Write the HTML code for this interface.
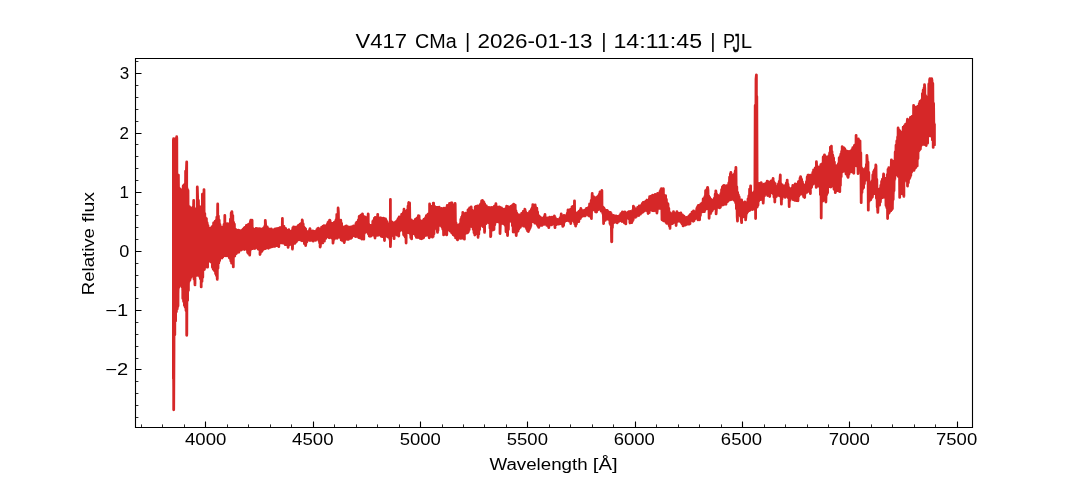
<!DOCTYPE html>
<html lang="en"><head><meta charset="utf-8"><title>V417 CMa spectrum</title>
<style>html,body{margin:0;padding:0;background:#fff;overflow:hidden}body{width:1080px;height:480px;font-family:"Liberation Sans",sans-serif}svg{display:block}text{font-family:"Liberation Sans",sans-serif;fill:#000}</style></head><body>
<svg width="1080" height="480" viewBox="0 0 1080 480">
<rect width="1080" height="480" fill="#fff"/>
<path d="M172.0,139.9 172.4,139.9 172.8,139.9 173.2,139.6 173.6,139.1 174.0,138.9 174.4,138.7 174.8,138.5 175.2,138.3 175.6,138.1 176.0,138.0 176.4,137.9 176.8,138.1 177.2,159.8 177.6,174.3 178.0,174.7 178.4,175.0 178.8,178.2 179.2,187.0 179.6,189.9 180.0,189.9 180.4,189.9 180.8,189.9 181.2,189.9 181.6,189.7 182.0,189.4 182.4,188.9 182.8,187.4 183.2,186.0 183.6,184.9 184.0,184.6 184.4,184.3 184.8,181.6 185.2,174.1 185.6,171.4 186.0,171.0 186.4,169.1 186.8,167.0 187.2,182.3 187.6,187.9 188.0,188.5 188.4,190.8 188.8,200.8 189.2,206.0 189.6,206.4 190.0,206.8 190.4,207.2 190.8,207.4 191.2,207.4 191.6,207.4 192.0,207.4 192.4,207.4 192.8,206.5 193.2,203.9 193.6,201.2 194.0,204.7 194.4,209.1 194.8,209.1 195.2,209.1 195.6,209.1 196.0,209.1 196.4,209.1 196.8,209.1 197.2,204.8 197.6,191.5 198.0,198.3 198.4,198.6 198.8,198.9 199.2,201.8 199.6,207.3 200.0,207.3 200.4,207.3 200.8,207.3 201.2,207.3 201.6,207.3 202.0,194.9 202.4,194.7 202.8,194.5 203.2,194.3 203.6,194.1 204.0,189.9 204.4,200.6 204.8,211.5 205.2,213.8 205.6,215.2 206.0,216.7 206.4,218.2 206.8,219.6 207.2,221.1 207.6,222.5 208.0,223.9 208.4,225.3 208.8,226.7 209.2,227.4 209.6,227.4 210.0,227.4 210.4,227.4 210.8,227.4 211.2,227.1 211.6,226.5 212.0,225.9 212.4,225.3 212.8,224.7 213.2,224.1 213.6,223.5 214.0,222.9 214.4,222.3 214.8,221.3 215.2,220.4 215.6,219.5 216.0,218.5 216.4,217.6 216.8,216.7 217.2,212.7 217.6,208.4 218.0,211.4 218.4,214.4 218.8,216.4 219.2,218.4 219.6,220.4 220.0,222.2 220.4,223.6 220.8,225.0 221.2,226.4 221.6,227.1 222.0,227.1 222.4,227.1 222.8,227.1 223.2,227.1 223.6,226.4 224.0,222.4 224.4,218.4 224.8,215.8 225.2,218.8 225.6,224.1 226.0,224.1 226.4,224.1 226.8,224.1 227.2,224.1 227.6,224.1 228.0,224.0 228.4,223.9 228.8,223.7 229.2,223.6 229.6,223.5 230.0,221.4 230.4,218.0 230.8,214.6 231.2,212.7 231.6,212.5 232.0,212.4 232.4,212.7 232.8,213.5 233.2,218.7 233.6,221.2 234.0,221.6 234.4,222.0 234.8,224.3 235.2,229.1 235.6,230.0 236.0,230.2 236.4,230.5 236.8,230.8 237.2,231.0 237.6,231.0 238.0,231.0 238.4,231.0 238.8,231.0 239.2,231.0 239.6,230.9 240.0,230.8 240.4,230.7 240.8,230.6 241.2,230.5 241.6,230.4 242.0,229.9 242.4,229.4 242.8,228.9 243.2,228.4 243.6,227.9 244.0,227.4 244.4,227.1 244.8,227.0 245.2,226.9 245.6,226.7 246.0,226.6 246.4,225.8 246.8,225.0 247.2,224.2 247.6,224.1 248.0,224.0 248.4,223.9 248.8,223.9 249.2,223.6 249.6,222.4 250.0,221.2 250.4,220.2 250.8,220.3 251.2,220.5 251.6,220.6 252.0,220.8 252.4,220.9 252.8,225.8 253.2,229.1 253.6,229.1 254.0,229.1 254.4,229.1 254.8,229.1 255.2,229.1 255.6,229.1 256.0,229.1 256.4,229.1 256.8,229.1 257.2,229.1 257.6,229.0 258.0,229.0 258.4,228.9 258.8,228.8 259.2,228.8 259.6,228.7 260.0,228.6 260.4,228.6 260.8,228.5 261.2,228.4 261.6,228.4 262.0,228.3 262.4,228.3 262.8,228.2 263.2,228.1 263.6,228.0 264.0,227.4 264.4,226.8 264.8,226.3 265.2,223.1 265.6,223.1 266.0,225.5 266.4,226.0 266.8,226.6 267.2,227.1 267.6,227.6 268.0,228.0 268.4,228.2 268.8,228.4 269.2,228.6 269.6,228.8 270.0,228.8 270.4,228.8 270.8,228.8 271.2,228.8 271.6,228.8 272.0,228.8 272.4,228.9 272.8,229.1 273.2,229.3 273.6,229.5 274.0,229.7 274.4,229.7 274.8,229.7 275.2,229.7 275.6,229.7 276.0,229.7 276.4,229.1 276.8,228.5 277.2,227.9 277.6,227.6 278.0,227.3 278.4,227.0 278.8,226.7 279.2,226.5 279.6,226.6 280.0,226.6 280.4,226.6 280.8,226.6 281.2,226.6 281.6,226.6 282.0,222.0 282.4,218.8 282.8,223.0 283.2,226.2 283.6,226.6 284.0,227.1 284.4,227.5 284.8,228.0 285.2,228.4 285.6,228.7 286.0,229.0 286.4,229.3 286.8,229.6 287.2,229.9 287.6,230.2 288.0,230.3 288.4,230.3 288.8,230.3 289.2,230.3 289.6,230.3 290.0,230.3 290.4,230.3 290.8,230.3 291.2,230.3 291.6,230.3 292.0,229.6 292.4,228.8 292.8,228.0 293.2,227.7 293.6,227.6 294.0,227.6 294.4,227.8 294.8,227.8 295.2,227.8 295.6,227.8 296.0,227.8 296.4,227.8 296.8,227.7 297.2,227.3 297.6,226.9 298.0,226.5 298.4,226.1 298.8,225.8 299.2,225.5 299.6,225.2 300.0,224.9 300.4,224.6 300.8,224.3 301.2,222.9 301.6,220.5 302.0,220.3 302.4,220.3 302.8,220.5 303.2,223.4 303.6,225.3 304.0,226.3 304.4,227.3 304.8,228.1 305.2,228.7 305.6,229.3 306.0,230.0 306.4,230.8 306.8,231.5 307.2,231.5 307.6,231.5 308.0,231.5 308.4,231.5 308.8,231.5 309.2,230.6 309.6,229.7 310.0,228.9 310.4,230.1 310.8,231.4 311.2,231.5 311.6,231.5 312.0,231.5 312.4,231.5 312.8,231.5 313.2,231.4 313.6,231.2 314.0,231.0 314.4,230.8 314.8,230.6 315.2,230.4 315.6,230.2 316.0,229.9 316.4,229.6 316.8,229.3 317.2,229.0 317.6,228.7 318.0,228.4 318.4,228.3 318.8,228.2 319.2,228.1 319.6,228.0 320.0,227.9 320.4,227.8 320.8,227.6 321.2,227.5 321.6,227.4 322.0,227.3 322.4,227.2 322.8,227.0 323.2,226.8 323.6,226.6 324.0,226.4 324.4,226.2 324.8,226.0 325.2,225.8 325.6,225.6 326.0,225.4 326.4,224.6 326.8,223.8 327.2,223.0 327.6,222.2 328.0,221.5 328.4,221.3 328.8,221.0 329.2,220.7 329.6,220.8 330.0,220.9 330.4,221.3 330.8,222.3 331.2,223.3 331.6,223.3 332.0,223.3 332.4,223.3 332.8,223.3 333.2,223.3 333.6,223.1 334.0,222.6 334.4,222.1 334.8,221.7 335.2,221.2 335.6,219.4 336.0,216.5 336.4,214.7 336.8,214.5 337.2,214.4 337.6,214.2 338.0,212.2 338.4,210.8 338.8,214.2 339.2,219.7 339.6,220.5 340.0,220.6 340.4,220.7 340.8,220.8 341.2,221.0 341.6,223.0 342.0,225.3 342.4,226.2 342.8,226.5 343.2,226.8 343.6,227.1 344.0,227.1 344.4,227.1 344.8,227.1 345.2,227.1 345.6,227.1 346.0,226.6 346.4,226.2 346.8,226.2 347.2,226.2 347.6,226.3 348.0,226.3 348.4,226.3 348.8,226.4 349.2,226.4 349.6,226.4 350.0,226.5 350.4,226.5 350.8,226.5 351.2,226.6 351.6,226.6 352.0,226.6 352.4,226.6 352.8,226.6 353.2,226.6 353.6,226.5 354.0,225.9 354.4,225.3 354.8,224.7 355.2,224.3 355.6,223.9 356.0,223.5 356.4,223.1 356.8,222.7 357.2,222.3 357.6,221.9 358.0,220.6 358.4,217.4 358.8,216.5 359.2,216.4 359.6,216.3 360.0,216.2 360.4,216.1 360.8,216.0 361.2,215.7 361.6,215.1 362.0,214.5 362.4,214.1 362.8,214.0 363.2,214.6 363.6,215.3 364.0,216.0 364.4,216.1 364.8,216.2 365.2,216.4 365.6,216.5 366.0,216.6 366.4,216.6 366.8,216.6 367.2,216.6 367.6,216.6 368.0,216.1 368.4,219.8 368.8,224.7 369.2,224.7 369.6,224.7 370.0,224.7 370.4,224.7 370.8,224.7 371.2,224.5 371.6,224.3 372.0,224.1 372.4,222.1 372.8,220.1 373.2,219.5 373.6,219.2 374.0,218.9 374.4,218.6 374.8,218.3 375.2,218.0 375.6,217.8 376.0,217.6 376.4,217.5 376.8,217.4 377.2,217.2 377.6,215.7 378.0,216.4 378.4,217.9 378.8,218.0 379.2,218.1 379.6,218.3 380.0,218.4 380.4,218.5 380.8,218.5 381.2,218.5 381.6,218.5 382.0,218.5 382.4,218.5 382.8,218.5 383.2,218.5 383.6,218.5 384.0,218.5 384.4,218.5 384.8,218.4 385.2,217.9 385.6,218.9 386.0,220.0 386.4,221.0 386.8,222.0 387.2,222.8 387.6,222.8 388.0,222.8 388.4,222.8 388.8,222.8 389.2,222.8 389.6,222.8 390.0,222.8 390.4,199.7 390.8,213.2 391.2,222.2 391.6,222.2 392.0,222.2 392.4,222.2 392.8,222.2 393.2,222.2 393.6,222.2 394.0,222.2 394.4,222.2 394.8,222.2 395.2,221.8 395.6,221.4 396.0,221.0 396.4,220.5 396.8,220.0 397.2,219.6 397.6,219.1 398.0,218.6 398.4,218.2 398.8,217.7 399.2,217.2 399.6,216.8 400.0,216.4 400.4,216.1 400.8,215.8 401.2,215.4 401.6,215.1 402.0,214.8 402.4,214.5 402.8,214.2 403.2,211.8 403.6,209.7 404.0,209.6 404.4,209.8 404.8,210.0 405.2,210.3 405.6,210.3 406.0,210.3 406.4,210.3 406.8,210.3 407.2,210.3 407.6,207.9 408.0,205.2 408.4,203.4 408.8,203.2 409.2,203.2 409.6,203.3 410.0,203.5 410.4,214.3 410.8,220.3 411.2,220.3 411.6,220.3 412.0,220.3 412.4,220.3 412.8,220.3 413.2,220.1 413.6,219.9 414.0,219.8 414.4,219.5 414.8,219.2 415.2,218.9 415.6,218.5 416.0,218.2 416.4,217.9 416.8,217.6 417.2,217.3 417.6,217.0 418.0,216.7 418.4,216.5 418.8,216.2 419.2,217.3 419.6,220.0 420.0,221.0 420.4,221.0 420.8,221.0 421.2,221.0 421.6,221.0 422.0,221.0 422.4,221.0 422.8,221.0 423.2,220.4 423.6,219.8 424.0,219.1 424.4,218.4 424.8,217.8 425.2,217.2 425.6,216.6 426.0,216.0 426.4,215.4 426.8,214.8 427.2,214.2 427.6,214.1 428.0,214.1 428.4,214.1 428.8,213.4 429.2,208.1 429.6,204.1 430.0,206.0 430.4,207.0 430.8,207.0 431.2,207.0 431.6,207.0 432.0,207.0 432.4,206.7 432.8,205.2 433.2,203.7 433.6,203.4 434.0,203.8 434.4,204.3 434.8,204.8 435.2,205.3 435.6,206.0 436.0,206.8 436.4,207.6 436.8,207.8 437.2,207.8 437.6,207.8 438.0,207.8 438.4,207.8 438.8,207.8 439.2,207.9 439.6,208.1 440.0,208.2 440.4,208.4 440.8,208.6 441.2,208.7 441.6,208.8 442.0,208.8 442.4,208.8 442.8,208.8 443.2,208.8 443.6,208.8 444.0,208.8 444.4,208.7 444.8,208.6 445.2,208.5 445.6,207.4 446.0,205.9 446.4,205.9 446.8,205.9 447.2,205.9 447.6,205.9 448.0,205.7 448.4,204.9 448.8,204.1 449.2,203.5 449.6,203.4 450.0,203.3 450.4,203.2 450.8,203.2 451.2,203.4 451.6,203.5 452.0,203.7 452.4,203.9 452.8,204.1 453.2,204.1 453.6,204.1 454.0,204.1 454.4,204.1 454.8,204.1 455.2,203.7 455.6,208.6 456.0,223.1 456.4,223.9 456.8,224.7 457.2,225.1 457.6,225.1 458.0,225.1 458.4,225.1 458.8,225.1 459.2,225.1 459.6,223.5 460.0,221.9 460.4,220.3 460.8,218.7 461.2,217.1 461.6,215.5 462.0,214.4 462.4,213.4 462.8,212.9 463.2,213.1 463.6,213.4 464.0,213.7 464.4,213.9 464.8,214.1 465.2,214.1 465.6,214.1 466.0,214.1 466.4,214.1 466.8,213.3 467.2,211.5 467.6,209.7 468.0,208.4 468.4,208.3 468.8,208.1 469.2,207.9 469.6,207.8 470.0,207.6 470.4,207.5 470.8,207.3 471.2,207.2 471.6,207.7 472.0,209.7 472.4,210.1 472.8,210.1 473.2,210.1 473.6,210.1 474.0,210.1 474.4,209.4 474.8,208.0 475.2,206.6 475.6,206.5 476.0,206.6 476.4,206.6 476.8,206.6 477.2,206.6 477.6,206.6 478.0,206.4 478.4,205.7 478.8,205.1 479.2,204.4 479.6,203.7 480.0,203.2 480.4,202.8 480.8,202.4 481.2,202.0 481.6,201.6 482.0,201.2 482.4,201.0 482.8,201.0 483.2,201.0 483.6,201.0 484.0,201.0 484.4,201.9 484.8,202.8 485.2,203.8 485.6,204.7 486.0,205.5 486.4,205.9 486.8,206.3 487.2,206.7 487.6,207.1 488.0,207.3 488.4,207.3 488.8,207.4 489.2,207.5 489.6,207.5 490.0,207.6 490.4,207.7 490.8,207.7 491.2,207.8 491.6,207.8 492.0,207.8 492.4,207.8 492.8,207.8 493.2,207.8 493.6,207.7 494.0,207.1 494.4,206.5 494.8,205.9 495.2,205.3 495.6,204.7 496.0,204.1 496.4,204.3 496.8,205.0 497.2,205.7 497.6,206.3 498.0,206.6 498.4,206.6 498.8,206.6 499.2,206.6 499.6,206.6 500.0,206.6 500.4,206.6 500.8,206.6 501.2,207.0 501.6,207.6 502.0,208.1 502.4,208.6 502.8,209.0 503.2,209.0 503.6,209.0 504.0,209.0 504.4,209.0 504.8,209.0 505.2,208.5 505.6,208.0 506.0,207.4 506.4,206.9 506.8,206.5 507.2,207.0 507.6,207.6 508.0,207.8 508.4,207.8 508.8,207.8 509.2,207.8 509.6,207.8 510.0,207.5 510.4,207.0 510.8,206.5 511.2,206.0 511.6,205.5 512.0,205.0 512.4,204.7 512.8,204.7 513.2,204.7 513.6,204.7 514.0,204.7 514.4,204.7 514.8,204.7 515.2,204.7 515.6,207.0 516.0,209.6 516.4,212.2 516.8,213.1 517.2,213.5 517.6,213.9 518.0,214.3 518.4,214.7 518.8,214.7 519.2,214.7 519.6,214.7 520.0,214.7 520.4,214.7 520.8,214.3 521.2,213.9 521.6,213.5 522.0,213.1 522.4,212.7 522.8,212.3 523.2,211.8 523.6,211.3 524.0,210.7 524.4,210.2 524.8,209.7 525.2,209.7 525.6,210.8 526.0,212.0 526.4,213.2 526.8,213.2 527.2,213.2 527.6,213.2 528.0,213.2 528.4,213.2 528.8,212.7 529.2,211.7 529.6,210.7 530.0,209.9 530.4,209.1 530.8,208.3 531.2,207.5 531.6,206.7 532.0,205.9 532.4,205.3 532.8,205.3 533.2,205.2 533.6,205.2 534.0,205.1 534.4,205.1 534.8,205.0 535.2,205.0 535.6,205.3 536.0,206.0 536.4,206.6 536.8,207.3 537.2,208.1 537.6,209.7 538.0,211.3 538.4,212.9 538.8,214.5 539.2,215.8 539.6,216.8 540.0,217.8 540.4,218.3 540.8,218.3 541.2,218.3 541.6,218.3 542.0,218.3 542.4,218.3 542.8,217.7 543.2,217.2 543.6,216.7 544.0,216.1 544.4,216.1 544.8,216.3 545.2,216.5 545.6,216.7 546.0,216.9 546.4,217.2 546.8,217.2 547.2,217.2 547.6,217.2 548.0,217.2 548.4,217.2 548.8,217.2 549.2,217.1 549.6,217.0 550.0,216.9 550.4,217.1 550.8,217.2 551.2,217.2 551.6,217.2 552.0,217.2 552.4,217.2 552.8,217.2 553.2,217.1 553.6,216.9 554.0,216.7 554.4,216.5 554.8,216.7 555.2,216.9 555.6,217.1 556.0,217.4 556.4,218.1 556.8,218.8 557.2,219.1 557.6,219.1 558.0,219.1 558.4,219.1 558.8,219.1 559.2,219.1 559.6,217.8 560.0,216.6 560.4,215.3 560.8,215.1 561.2,215.0 561.6,215.4 562.0,215.8 562.4,216.0 562.8,216.0 563.2,216.0 563.6,216.0 564.0,216.0 564.4,215.9 564.8,215.8 565.2,215.6 565.6,215.5 566.0,215.4 566.4,214.0 566.8,212.6 567.2,211.2 567.6,210.6 568.0,210.2 568.4,209.8 568.8,209.7 569.2,209.7 569.6,209.7 570.0,209.7 570.4,209.7 570.8,209.7 571.2,209.1 571.6,207.9 572.0,206.7 572.4,205.9 572.8,205.6 573.2,205.3 573.6,205.1 574.0,204.8 574.4,203.1 574.8,206.9 575.2,210.1 575.6,212.1 576.0,213.2 576.4,213.2 576.8,213.2 577.2,213.2 577.6,213.2 578.0,213.2 578.4,212.4 578.8,211.6 579.2,210.8 579.6,210.0 580.0,209.4 580.4,208.9 580.8,208.8 581.2,209.4 581.6,210.1 582.0,210.8 582.4,210.9 582.8,210.9 583.2,210.9 583.6,210.9 584.0,210.9 584.4,210.6 584.8,210.1 585.2,209.5 585.6,209.0 586.0,208.5 586.4,208.1 586.8,207.7 587.2,207.3 587.6,206.9 588.0,206.5 588.4,206.1 588.8,205.6 589.2,205.0 589.6,204.5 590.0,204.0 590.4,203.4 590.8,202.0 591.2,200.6 591.6,199.2 592.0,196.0 592.4,194.2 592.8,195.2 593.2,196.2 593.6,196.9 594.0,197.5 594.4,198.1 594.8,198.4 595.2,198.4 595.6,198.4 596.0,198.4 596.4,198.4 596.8,198.2 597.2,197.5 597.6,196.9 598.0,196.2 598.4,195.5 598.8,194.4 599.2,193.2 599.6,192.2 600.0,192.0 600.4,191.9 600.8,191.7 601.2,191.4 601.6,192.3 602.0,197.5 602.4,202.1 602.8,206.0 603.2,206.4 603.6,206.8 604.0,207.2 604.4,207.6 604.8,208.0 605.2,208.4 605.6,208.7 606.0,209.0 606.4,209.3 606.8,209.6 607.2,209.9 607.6,210.2 608.0,210.4 608.4,210.6 608.8,210.7 609.2,210.8 609.6,211.0 610.0,211.5 610.4,212.0 610.8,212.5 611.2,213.1 611.6,213.6 612.0,214.0 612.4,214.4 612.8,214.8 613.2,215.2 613.6,215.4 614.0,215.5 614.4,215.6 614.8,215.7 615.2,215.8 615.6,215.9 616.0,216.0 616.4,216.0 616.8,216.0 617.2,216.0 617.6,216.0 618.0,215.9 618.4,215.6 618.8,215.4 619.2,215.1 619.6,214.8 620.0,214.1 620.4,213.1 620.8,212.2 621.2,212.2 621.6,212.2 622.0,212.2 622.4,212.2 622.8,212.2 623.2,212.2 623.6,212.2 624.0,212.1 624.4,212.1 624.8,212.0 625.2,211.9 625.6,211.9 626.0,211.8 626.4,211.7 626.8,211.7 627.2,211.6 627.6,211.5 628.0,211.4 628.4,211.3 628.8,211.3 629.2,211.5 629.6,211.6 630.0,211.6 630.4,211.6 630.8,211.6 631.2,211.6 631.6,211.6 632.0,211.0 632.4,210.4 632.8,209.8 633.2,208.1 633.6,206.6 634.0,207.2 634.4,208.0 634.8,208.4 635.2,208.4 635.6,208.4 636.0,208.4 636.4,208.4 636.8,208.3 637.2,207.9 637.6,207.5 638.0,207.1 638.4,206.7 638.8,206.4 639.2,206.1 639.6,205.8 640.0,205.5 640.4,205.2 640.8,204.9 641.2,204.6 641.6,204.3 642.0,204.0 642.4,203.7 642.8,203.4 643.2,203.1 643.6,202.8 644.0,202.7 644.4,202.6 644.8,202.4 645.2,202.3 645.6,200.9 646.0,198.5 646.4,198.6 646.8,198.9 647.2,198.9 647.6,198.9 648.0,198.9 648.4,198.9 648.8,198.9 649.2,197.4 649.6,195.9 650.0,195.5 650.4,195.7 650.8,195.9 651.2,195.9 651.6,195.9 652.0,195.9 652.4,195.9 652.8,195.9 653.2,195.8 653.6,195.5 654.0,195.2 654.4,195.0 654.8,194.7 655.2,194.6 655.6,194.5 656.0,194.4 656.4,194.3 656.8,194.2 657.2,194.1 657.6,193.8 658.0,193.4 658.4,193.0 658.8,192.6 659.2,192.1 659.6,191.4 660.0,190.8 660.4,190.1 660.8,189.4 661.2,189.1 661.6,189.0 662.0,188.9 662.4,188.8 662.8,188.8 663.2,188.9 663.6,189.1 664.0,195.8 664.4,195.9 664.8,195.9 665.2,195.9 665.6,195.9 666.0,196.2 666.4,198.1 666.8,200.0 667.2,201.7 667.6,202.5 668.0,203.3 668.4,204.3 668.8,207.1 669.2,209.9 669.6,212.7 670.0,213.1 670.4,213.5 670.8,213.8 671.2,213.8 671.6,213.8 672.0,213.8 672.4,213.8 672.8,213.8 673.2,213.5 673.6,213.3 674.0,213.8 674.4,213.8 674.8,213.8 675.2,213.8 675.6,213.8 676.0,213.8 676.4,213.4 676.8,213.0 677.2,213.0 677.6,213.3 678.0,213.5 678.4,213.5 678.8,213.5 679.2,213.5 679.6,213.5 680.0,213.4 680.4,213.4 680.8,213.6 681.2,213.7 681.6,213.9 682.0,214.0 682.4,214.6 682.8,215.4 683.2,216.2 683.6,216.7 684.0,216.9 684.4,217.1 684.8,217.2 685.2,217.2 685.6,217.2 686.0,217.2 686.4,217.2 686.8,217.1 687.2,216.7 687.6,216.3 688.0,215.9 688.4,215.5 688.8,215.1 689.2,214.7 689.6,214.3 690.0,213.9 690.4,213.5 690.8,213.1 691.2,212.7 691.6,212.5 692.0,212.3 692.4,212.1 692.8,211.9 693.2,211.8 693.6,211.8 694.0,211.7 694.4,211.7 694.8,211.7 695.2,211.6 695.6,210.7 696.0,209.1 696.4,207.5 696.8,206.3 697.2,205.7 697.6,205.1 698.0,204.7 698.4,204.6 698.8,204.4 699.2,204.3 699.6,204.2 700.0,203.9 700.4,203.7 700.8,203.4 701.2,203.1 701.6,202.9 702.0,201.7 702.4,200.5 702.8,199.3 703.2,198.6 703.6,197.9 704.0,197.2 704.4,196.6 704.8,195.4 705.2,191.0 705.6,189.0 706.0,188.8 706.4,188.6 706.8,188.3 707.2,188.1 707.6,187.9 708.0,187.6 708.4,190.6 708.8,193.6 709.2,195.0 709.6,196.3 710.0,197.6 710.4,198.7 710.8,199.3 711.2,199.9 711.6,200.2 712.0,200.2 712.4,200.2 712.8,200.2 713.2,200.2 713.6,199.8 714.0,197.5 714.4,195.3 714.8,194.0 715.2,193.0 715.6,192.0 716.0,192.5 716.4,193.7 716.8,194.8 717.2,195.3 717.6,195.8 718.0,195.8 718.4,195.8 718.8,195.8 719.2,195.8 719.6,195.8 720.0,195.1 720.4,193.7 720.8,192.3 721.2,190.8 721.6,189.2 722.0,187.6 722.4,186.5 722.8,186.3 723.2,186.1 723.6,186.2 724.0,186.3 724.4,186.3 724.8,186.3 725.2,186.3 725.6,186.3 726.0,186.3 726.4,186.0 726.8,185.7 727.2,185.4 727.6,184.3 728.0,183.1 728.4,181.9 728.8,180.1 729.2,178.1 729.6,176.1 730.0,174.1 730.4,173.5 730.8,173.6 731.2,174.6 731.6,175.2 732.0,175.2 732.4,175.2 732.8,175.2 733.2,175.2 733.6,175.2 734.0,174.4 734.4,173.6 734.8,172.7 735.2,171.1 735.6,169.5 736.0,168.9 736.4,174.3 736.8,180.7 737.2,191.1 737.6,191.9 738.0,192.7 738.4,193.6 738.8,195.0 739.2,196.4 739.6,197.8 740.0,198.3 740.4,198.9 740.8,199.4 741.2,199.9 741.6,200.4 742.0,200.8 742.4,201.2 742.8,201.6 743.2,202.0 743.6,202.4 744.0,202.8 744.4,202.8 744.8,202.8 745.2,202.8 745.6,202.8 746.0,202.8 746.4,202.5 746.8,202.1 747.2,201.7 747.6,200.2 748.0,198.6 748.4,197.0 748.8,194.4 749.2,191.4 749.6,188.4 750.0,188.4 750.4,191.0 750.8,192.2 751.2,192.9 751.6,193.3 752.0,193.3 752.4,193.3 752.8,193.3 753.2,193.3 753.6,193.0 754.0,191.3 754.4,189.5 754.8,113.0 755.2,98.8 755.6,84.7 756.0,75.0 756.4,75.0 756.8,75.0 757.2,135.5 757.6,184.1 758.0,184.1 758.4,184.1 758.8,184.1 759.2,184.1 759.6,184.1 760.0,184.1 760.4,184.1 760.8,184.1 761.2,183.9 761.6,183.5 762.0,183.7 762.4,183.9 762.8,184.1 763.2,184.1 763.6,184.1 764.0,184.1 764.4,184.1 764.8,184.1 765.2,183.7 765.6,183.3 766.0,182.9 766.4,182.5 766.8,182.1 767.2,181.7 767.6,181.7 768.0,182.3 768.4,182.8 768.8,182.8 769.2,182.8 769.6,182.8 770.0,182.8 770.4,182.8 770.8,182.1 771.2,181.5 771.6,180.8 772.0,180.1 772.4,179.6 772.8,179.8 773.2,180.6 773.6,181.4 774.0,182.2 774.4,183.0 774.8,183.7 775.2,184.3 775.6,184.9 776.0,185.2 776.4,185.2 776.8,185.2 777.2,185.2 777.6,185.2 778.0,185.0 778.4,183.8 778.8,182.6 779.2,181.2 779.6,179.2 780.0,177.2 780.4,176.6 780.8,180.7 781.2,184.8 781.6,185.3 782.0,185.3 782.4,185.3 782.8,185.3 783.2,185.3 783.6,185.3 784.0,185.3 784.4,185.3 784.8,185.2 785.2,183.9 785.6,182.7 786.0,181.9 786.4,181.4 786.8,180.9 787.2,180.5 787.6,181.3 788.0,182.1 788.4,183.1 788.8,186.5 789.2,189.9 789.6,189.9 790.0,189.9 790.4,189.9 790.8,189.9 791.2,189.9 791.6,188.8 792.0,187.1 792.4,185.9 792.8,185.7 793.2,185.5 793.6,185.3 794.0,185.1 794.4,184.9 794.8,184.7 795.2,184.7 795.6,184.7 796.0,184.7 796.4,184.7 796.8,184.4 797.2,183.8 797.6,183.1 798.0,182.4 798.4,181.8 798.8,180.7 799.2,179.5 799.6,178.3 800.0,177.7 800.4,177.5 800.8,177.3 801.2,177.5 801.6,177.6 802.0,177.8 802.4,180.2 802.8,183.6 803.2,185.3 803.6,185.3 804.0,185.3 804.4,185.3 804.8,185.3 805.2,184.6 805.6,183.1 806.0,181.6 806.4,179.6 806.8,177.6 807.2,175.6 807.6,175.2 808.0,175.1 808.4,175.1 808.8,175.3 809.2,175.3 809.6,175.3 810.0,175.3 810.4,175.3 810.8,175.3 811.2,175.0 811.6,174.2 812.0,173.4 812.4,172.6 812.8,171.8 813.2,171.1 813.6,170.4 814.0,169.7 814.4,169.1 814.8,168.4 815.2,168.0 815.6,167.6 816.0,167.2 816.4,164.0 816.8,165.1 817.2,167.0 817.6,167.0 818.0,167.0 818.4,167.0 818.8,167.0 819.2,167.0 819.6,166.0 820.0,165.0 820.4,164.1 820.8,163.8 821.2,163.6 821.6,163.3 822.0,163.0 822.4,161.8 822.8,159.1 823.2,156.3 823.6,155.7 824.0,155.4 824.4,155.7 824.8,156.7 825.2,157.7 825.6,157.7 826.0,157.7 826.4,157.7 826.8,157.7 827.2,157.7 827.6,157.5 828.0,157.1 828.4,156.7 828.8,156.3 829.2,155.3 829.6,151.6 830.0,147.9 830.4,147.4 830.8,146.9 831.2,146.6 831.6,148.6 832.0,150.9 832.4,153.0 832.8,155.0 833.2,157.0 833.6,158.2 834.0,158.7 834.4,160.6 834.8,164.6 835.2,166.6 835.6,166.6 836.0,166.6 836.4,166.6 836.8,166.6 837.2,166.2 837.6,165.4 838.0,164.6 838.4,162.8 838.8,159.4 839.2,156.6 839.6,156.4 840.0,156.2 840.4,155.8 840.8,153.4 841.2,151.0 841.6,148.6 842.0,148.1 842.4,147.7 842.8,147.8 843.2,147.8 843.6,147.8 844.0,147.8 844.4,147.8 844.8,148.2 845.2,149.0 845.6,149.8 846.0,150.5 846.4,151.1 846.8,151.7 847.2,152.2 847.6,152.2 848.0,152.2 848.4,152.2 848.8,152.2 849.2,152.2 849.6,152.1 850.0,151.9 850.4,151.8 850.8,151.7 851.2,151.2 851.6,150.4 852.0,149.6 852.4,148.9 852.8,148.2 853.2,147.5 853.6,146.9 854.0,146.2 854.4,145.6 854.8,144.9 855.2,144.3 855.6,143.7 856.0,139.7 856.4,137.9 856.8,139.7 857.2,139.7 857.6,139.7 858.0,139.7 858.4,139.7 858.8,139.7 859.2,139.6 859.6,139.6 860.0,139.7 860.4,143.4 860.8,147.2 861.2,155.6 861.6,163.8 862.0,167.8 862.4,169.0 862.8,169.0 863.2,169.0 863.6,169.0 864.0,169.0 864.4,168.8 864.8,168.4 865.2,168.0 865.6,166.5 866.0,164.1 866.4,161.7 866.8,159.1 867.2,156.7 867.6,157.6 868.0,158.5 868.4,164.1 868.8,169.9 869.2,176.2 869.6,182.5 870.0,182.5 870.4,182.5 870.8,182.5 871.2,182.5 871.6,182.5 872.0,179.9 872.4,176.7 872.8,173.5 873.2,172.0 873.6,170.9 874.0,169.9 874.4,168.8 874.8,167.7 875.2,166.7 875.6,165.7 876.0,165.7 876.4,167.5 876.8,171.1 877.2,185.1 877.6,188.7 878.0,188.7 878.4,188.7 878.8,188.7 879.2,188.7 879.6,188.7 880.0,187.0 880.4,185.4 880.8,183.7 881.2,182.4 881.6,181.5 882.0,180.5 882.4,179.6 882.8,178.7 883.2,176.9 883.6,175.4 884.0,177.7 884.4,178.8 884.8,178.8 885.2,178.8 885.6,178.8 886.0,178.8 886.4,178.4 886.8,176.4 887.2,174.4 887.6,171.5 888.0,168.5 888.4,166.8 888.8,167.0 889.2,167.0 889.6,167.0 890.0,167.0 890.4,167.0 890.8,166.8 891.2,163.7 891.6,160.7 892.0,161.9 892.4,161.9 892.8,161.9 893.2,161.9 893.6,161.9 894.0,161.9 894.4,159.3 894.8,155.0 895.2,151.1 895.6,147.6 896.0,144.1 896.4,142.5 896.8,140.9 897.2,139.3 897.6,135.6 898.0,128.4 898.4,128.3 898.8,130.4 899.2,131.6 899.6,131.6 900.0,131.6 900.4,131.6 900.8,131.6 901.2,131.6 901.6,131.6 902.0,131.6 902.4,131.6 902.8,126.6 903.2,125.2 903.6,125.0 904.0,124.8 904.4,124.7 904.8,124.7 905.2,124.7 905.6,124.7 906.0,124.7 906.4,121.9 906.8,120.3 907.2,120.5 907.6,120.8 908.0,120.8 908.4,120.8 908.8,120.8 909.2,120.8 909.6,120.4 910.0,117.9 910.4,117.6 910.8,117.4 911.2,117.2 911.6,117.2 912.0,117.2 912.4,117.2 912.8,117.2 913.2,107.5 913.6,105.9 914.0,106.0 914.4,106.2 914.8,106.3 915.2,106.3 915.6,106.3 916.0,106.3 916.4,106.3 916.8,106.2 917.2,106.0 917.6,105.8 918.0,105.5 918.4,104.9 918.8,103.7 919.2,102.5 919.6,101.4 920.0,100.5 920.4,99.7 920.8,99.7 921.2,99.7 921.6,99.7 922.0,99.7 922.4,90.1 922.8,89.3 923.2,88.5 923.6,87.6 924.0,86.8 924.4,85.9 924.8,87.0 925.2,94.8 925.6,96.6 926.0,96.6 926.4,96.6 926.8,96.6 927.2,96.6 927.6,96.6 928.0,96.6 928.4,87.6 928.8,83.4 929.2,80.8 929.6,78.8 930.0,78.8 930.4,78.9 930.8,79.1 931.2,79.1 931.6,79.1 932.0,79.1 932.4,79.7 932.8,81.0 933.2,85.6 933.6,95.1 934.0,109.1 934.4,121.1 934.8,124.1 935.2,124.1 935.6,124.1 935.6,145.9 935.2,145.9 934.8,145.9 934.4,145.9 934.0,145.9 933.6,146.2 933.2,144.9 932.8,142.7 932.4,142.3 932.0,135.3 931.6,135.3 931.2,135.3 930.8,135.3 930.4,135.3 930.0,135.3 929.6,135.3 929.2,135.3 928.8,135.3 928.4,140.5 928.0,141.8 927.6,142.8 927.2,143.8 926.8,144.2 926.4,144.4 926.0,144.0 925.6,144.0 925.2,144.0 924.8,144.0 924.4,144.0 924.0,144.0 923.6,144.3 923.2,144.6 922.8,144.8 922.4,145.1 922.0,145.6 921.6,146.6 921.2,147.6 920.8,148.5 920.4,149.0 920.0,149.6 919.6,150.1 919.2,150.6 918.8,152.9 918.4,156.9 918.0,160.9 917.6,167.2 917.2,167.3 916.8,167.4 916.4,167.5 916.0,167.6 915.6,168.4 915.2,169.3 914.8,170.1 914.4,170.1 914.0,170.1 913.6,170.1 913.2,170.1 912.8,170.1 912.4,170.1 912.0,171.7 911.6,173.7 911.2,175.7 910.8,177.2 910.4,178.2 910.0,179.2 909.6,180.2 909.2,181.2 908.8,182.1 908.4,182.7 908.0,183.4 907.6,183.5 907.2,182.4 906.8,181.3 906.4,180.2 906.0,180.2 905.6,180.2 905.2,180.2 904.8,180.2 904.4,180.2 904.0,189.5 903.6,194.8 903.2,194.0 902.8,193.6 902.4,193.6 902.0,193.6 901.6,193.6 901.2,193.6 900.8,193.6 900.4,194.8 900.0,196.0 899.6,192.0 899.2,178.4 898.8,175.9 898.4,175.9 898.0,175.9 897.6,175.9 897.2,175.9 896.8,175.9 896.4,175.9 896.0,175.9 895.6,175.9 895.2,176.9 894.8,184.9 894.4,190.7 894.0,194.7 893.6,199.2 893.2,203.7 892.8,207.2 892.4,209.8 892.0,211.6 891.6,211.7 891.2,211.8 890.8,212.0 890.4,212.1 890.0,212.3 889.6,212.6 889.2,212.9 888.8,213.1 888.4,213.4 888.0,216.4 887.6,218.4 887.2,212.4 886.8,207.8 886.4,206.6 886.0,205.4 885.6,203.5 885.2,200.5 884.8,197.5 884.4,197.4 884.0,197.4 883.6,197.4 883.2,197.4 882.8,197.4 882.4,197.7 882.0,198.3 881.6,198.9 881.2,200.3 880.8,202.1 880.4,203.6 880.0,204.2 879.6,204.9 879.2,205.6 878.8,206.2 878.4,206.9 878.0,207.6 877.6,208.2 877.2,209.9 876.8,211.0 876.4,204.6 876.0,193.4 875.6,193.4 875.2,193.4 874.8,193.4 874.4,193.4 874.0,193.4 873.6,194.7 873.2,195.9 872.8,197.1 872.4,198.2 872.0,199.1 871.6,199.2 871.2,199.3 870.8,199.5 870.4,199.6 870.0,199.9 869.6,200.3 869.2,200.7 868.8,203.9 868.4,209.7 868.0,184.3 867.6,180.3 867.2,180.3 866.8,180.3 866.4,180.3 866.0,180.3 865.6,180.3 865.2,180.3 864.8,181.1 864.4,185.5 864.0,187.5 863.6,188.1 863.2,189.1 862.8,190.7 862.4,192.3 862.0,195.3 861.6,201.3 861.2,202.2 860.8,192.8 860.4,169.8 860.0,169.8 859.6,169.8 859.2,169.8 858.8,169.8 858.4,169.8 858.0,170.8 857.6,170.0 857.2,166.8 856.8,165.3 856.4,165.3 856.0,165.3 855.6,165.3 855.2,165.3 854.8,165.4 854.4,165.7 854.0,165.9 853.6,170.3 853.2,172.8 852.8,172.5 852.4,172.2 852.0,172.2 851.6,172.2 851.2,172.2 850.8,172.2 850.4,172.2 850.0,172.9 849.6,174.1 849.2,175.3 848.8,176.0 848.4,176.3 848.0,176.4 847.6,176.1 847.2,175.8 846.8,175.3 846.4,174.8 846.0,174.3 845.6,173.5 845.2,172.0 844.8,170.5 844.4,170.5 844.0,170.5 843.6,170.5 843.2,170.5 842.8,170.5 842.4,170.9 842.0,171.7 841.6,174.1 841.2,179.2 840.8,183.9 840.4,186.5 840.0,189.1 839.6,191.2 839.2,190.9 838.8,190.5 838.4,190.4 838.0,190.4 837.6,190.4 837.2,190.4 836.8,190.4 836.4,190.4 836.0,191.0 835.6,191.6 835.2,192.2 834.8,191.3 834.4,190.3 834.0,189.3 833.6,188.3 833.2,187.3 832.8,186.5 832.4,186.5 832.0,186.5 831.6,186.5 831.2,186.5 830.8,186.5 830.4,186.5 830.0,186.5 829.6,186.5 829.2,186.5 828.8,187.5 828.4,189.5 828.0,191.5 827.6,193.5 827.2,195.3 826.8,197.1 826.4,198.7 826.0,200.0 825.6,200.3 825.2,199.7 824.8,199.7 824.4,199.7 824.0,199.7 823.6,199.7 823.2,199.9 822.8,200.5 822.4,201.2 822.0,201.8 821.6,206.8 821.2,216.3 820.8,204.8 820.4,198.1 820.0,192.1 819.6,188.0 819.2,187.0 818.8,186.0 818.4,186.0 818.0,186.0 817.6,186.0 817.2,186.0 816.8,186.0 816.4,185.0 816.0,184.0 815.6,184.0 815.2,184.0 814.8,184.0 814.4,184.0 814.0,184.0 813.6,184.6 813.2,185.1 812.8,185.6 812.4,186.2 812.0,186.7 811.6,187.3 811.2,187.9 810.8,188.8 810.4,191.1 810.0,192.0 809.6,191.6 809.2,191.6 808.8,191.6 808.4,191.6 808.0,191.6 807.6,191.6 807.2,191.9 806.8,192.2 806.4,192.4 806.0,192.7 805.6,193.7 805.2,195.1 804.8,196.5 804.4,197.2 804.0,196.9 803.6,196.6 803.2,196.4 802.8,196.0 802.4,195.3 802.0,194.7 801.6,194.0 801.2,193.7 800.8,193.7 800.4,193.7 800.0,193.7 799.6,193.7 799.2,193.8 798.8,196.9 798.4,200.1 798.0,200.4 797.6,200.5 797.2,200.6 796.8,200.5 796.4,200.4 796.0,200.3 795.6,200.1 795.2,199.9 794.8,199.7 794.4,199.5 794.0,199.3 793.6,199.1 793.2,199.1 792.8,199.1 792.4,199.1 792.0,199.1 791.6,199.1 791.2,199.2 790.8,199.3 790.4,199.5 790.0,199.7 789.6,203.3 789.2,206.5 788.8,202.9 788.4,199.4 788.0,198.4 787.6,197.4 787.2,196.5 786.8,196.5 786.4,196.5 786.0,196.5 785.6,196.5 785.2,196.5 784.8,196.5 784.4,196.5 784.0,196.5 783.6,196.8 783.2,197.4 782.8,198.0 782.4,199.0 782.0,201.2 781.6,203.5 781.2,203.1 780.8,196.1 780.4,195.3 780.0,195.3 779.6,195.3 779.2,195.3 778.8,195.3 778.4,195.4 778.0,195.6 777.6,195.7 777.2,195.9 776.8,196.3 776.4,196.7 776.0,197.2 775.6,197.7 775.2,199.3 774.8,200.8 774.4,199.3 774.0,197.8 773.6,196.3 773.2,195.0 772.8,193.7 772.4,193.1 772.0,193.1 771.6,193.1 771.2,193.1 770.8,193.1 770.4,193.2 770.0,194.7 769.6,196.2 769.2,196.0 768.8,195.6 768.4,195.2 768.0,194.8 767.6,194.7 767.2,194.7 766.8,194.7 766.4,194.7 766.0,194.7 765.6,194.7 765.2,194.9 764.8,195.0 764.4,195.1 764.0,195.3 763.6,198.4 763.2,201.3 762.8,199.8 762.4,199.8 762.0,199.8 761.6,199.8 761.2,199.8 760.8,199.8 760.4,200.3 760.0,200.8 759.6,201.4 759.2,201.9 758.8,202.9 758.4,204.3 758.0,205.7 757.6,206.7 757.2,207.0 756.8,207.3 756.4,207.7 756.0,214.9 755.6,218.4 755.2,213.8 754.8,208.7 754.4,208.7 754.0,208.7 753.6,208.7 753.2,208.7 752.8,208.7 752.4,208.8 752.0,208.9 751.6,209.0 751.2,209.2 750.8,209.4 750.4,209.6 750.0,209.8 749.6,210.0 749.2,210.2 748.8,210.5 748.4,211.1 748.0,211.6 747.6,212.1 747.2,212.7 746.8,213.6 746.4,214.6 746.0,215.6 745.6,216.7 745.2,217.7 744.8,217.2 744.4,217.2 744.0,217.2 743.6,217.2 743.2,217.2 742.8,217.2 742.4,218.7 742.0,220.5 741.6,222.0 741.2,219.1 740.8,216.3 740.4,215.5 740.0,215.0 739.6,214.7 739.2,214.7 738.8,214.7 738.4,214.7 738.0,214.7 737.6,215.4 737.2,217.4 736.8,219.4 736.4,213.6 736.0,202.8 735.6,202.4 735.2,202.0 734.8,201.6 734.4,201.0 734.0,200.4 733.6,199.8 733.2,199.7 732.8,199.7 732.4,199.7 732.0,199.7 731.6,199.7 731.2,199.7 730.8,199.7 730.4,199.7 730.0,199.7 729.6,199.7 729.2,199.7 728.8,200.7 728.4,202.7 728.0,202.9 727.6,203.0 727.2,203.2 726.8,203.3 726.4,203.5 726.0,203.9 725.6,204.3 725.2,204.7 724.8,204.7 724.4,204.7 724.0,204.7 723.6,204.7 723.2,204.7 722.8,204.7 722.4,205.0 722.0,205.4 721.6,205.8 721.2,206.2 720.8,206.6 720.4,207.0 720.0,207.4 719.6,207.3 719.2,207.2 718.8,207.2 718.4,207.2 718.0,207.2 717.6,207.2 717.2,207.2 716.8,208.9 716.4,211.1 716.0,211.8 715.6,209.2 715.2,207.9 714.8,207.9 714.4,207.9 714.0,207.9 713.6,207.9 713.2,208.5 712.8,210.1 712.4,211.7 712.0,212.8 711.6,213.1 711.2,213.3 710.8,213.6 710.4,213.8 710.0,214.0 709.6,215.8 709.2,217.5 708.8,213.5 708.4,209.6 708.0,209.4 707.6,209.2 707.2,209.1 706.8,209.1 706.4,209.1 706.0,209.1 705.6,209.1 705.2,209.2 704.8,210.4 704.4,211.6 704.0,211.9 703.6,211.8 703.2,211.6 702.8,211.6 702.4,211.6 702.0,211.6 701.6,211.6 701.2,211.6 700.8,212.6 700.4,218.2 700.0,219.8 699.6,219.7 699.2,219.7 698.8,219.6 698.4,219.5 698.0,219.4 697.6,219.4 697.2,219.4 696.8,219.4 696.4,219.4 696.0,219.4 695.6,219.6 695.2,219.9 694.8,220.1 694.4,220.4 694.0,220.7 693.6,220.8 693.2,220.9 692.8,221.0 692.4,221.2 692.0,221.3 691.6,221.4 691.2,221.7 690.8,222.8 690.4,224.0 690.0,224.4 689.6,224.3 689.2,224.1 688.8,224.1 688.4,224.1 688.0,224.1 687.6,224.1 687.2,224.1 686.8,224.1 686.4,224.2 686.0,224.3 685.6,224.4 685.2,224.5 684.8,224.6 684.4,224.7 684.0,224.9 683.6,225.1 683.2,225.2 682.8,225.1 682.4,225.0 682.0,224.8 681.6,224.5 681.2,222.9 680.8,221.3 680.4,221.2 680.0,221.2 679.6,221.2 679.2,221.2 678.8,221.2 678.4,221.2 678.0,221.3 677.6,221.4 677.2,221.4 676.8,221.5 676.4,223.0 676.0,224.7 675.6,224.2 675.2,223.5 674.8,222.9 674.4,222.8 674.0,222.8 673.6,222.8 673.2,222.8 672.8,222.8 672.4,222.9 672.0,223.0 671.6,223.1 671.2,223.2 670.8,223.3 670.4,223.4 670.0,224.4 669.6,225.9 669.2,227.2 668.8,226.2 668.4,225.0 668.0,223.8 667.6,223.4 667.2,223.4 666.8,223.4 666.4,223.4 666.0,223.1 665.6,222.8 665.2,222.8 664.8,222.2 664.4,221.4 664.0,220.8 663.6,220.5 663.2,220.2 662.8,219.9 662.4,219.6 662.0,219.3 661.6,218.6 661.2,211.8 660.8,208.3 660.4,208.0 660.0,207.8 659.6,207.8 659.2,207.8 658.8,207.8 658.4,207.8 658.0,207.8 657.6,209.5 657.2,211.2 656.8,211.3 656.4,210.8 656.0,210.3 655.6,210.3 655.2,210.3 654.8,210.3 654.4,210.3 654.0,210.3 653.6,210.3 653.2,210.3 652.8,210.3 652.4,210.3 652.0,210.3 651.6,210.3 651.2,210.3 650.8,210.4 650.4,210.8 650.0,211.2 649.6,211.6 649.2,212.0 648.8,212.3 648.4,212.3 648.0,211.7 647.6,211.3 647.2,211.1 646.8,210.8 646.4,210.5 646.0,210.3 645.6,210.3 645.2,210.3 644.8,210.3 644.4,210.3 644.0,210.3 643.6,211.3 643.2,212.3 642.8,213.3 642.4,213.5 642.0,213.7 641.6,213.9 641.2,214.0 640.8,214.2 640.4,214.3 640.0,214.5 639.6,214.7 639.2,214.8 638.8,214.9 638.4,215.0 638.0,215.1 637.6,215.2 637.2,215.3 636.8,215.6 636.4,216.0 636.0,216.4 635.6,216.8 635.2,217.2 634.8,217.6 634.4,218.0 634.0,218.4 633.6,218.8 633.2,219.5 632.8,220.5 632.4,221.5 632.0,222.2 631.6,222.3 631.2,222.5 630.8,222.4 630.4,222.4 630.0,222.3 629.6,222.2 629.2,221.0 628.8,219.5 628.4,218.8 628.0,218.8 627.6,218.8 627.2,218.8 626.8,218.8 626.4,218.9 626.0,220.9 625.6,222.9 625.2,223.5 624.8,223.2 624.4,223.0 624.0,222.7 623.6,222.4 623.2,222.1 622.8,221.8 622.4,221.5 622.0,221.2 621.6,221.0 621.2,221.0 620.8,221.0 620.4,221.0 620.0,221.0 619.6,221.0 619.2,221.8 618.8,222.3 618.4,222.2 618.0,222.2 617.6,222.2 617.2,222.2 616.8,222.2 616.4,222.2 616.0,222.3 615.6,222.4 615.2,222.5 614.8,222.6 614.4,222.7 614.0,222.8 613.6,223.4 613.2,224.0 612.8,224.6 612.4,234.1 612.0,241.5 611.6,241.5 611.2,233.6 610.8,224.5 610.4,224.3 610.0,224.1 609.6,223.5 609.2,222.1 608.8,220.7 608.4,219.7 608.0,219.2 607.6,219.2 607.2,219.2 606.8,219.2 606.4,219.2 606.0,219.2 605.6,219.7 605.2,220.2 604.8,220.7 604.4,221.4 604.0,222.2 603.6,221.1 603.2,215.7 602.8,214.2 602.4,212.7 602.0,211.8 601.6,211.2 601.2,210.6 600.8,210.3 600.4,210.3 600.0,210.3 599.6,210.3 599.2,210.3 598.8,210.3 598.4,210.5 598.0,210.6 597.6,210.7 597.2,210.9 596.8,211.1 596.4,211.4 596.0,211.7 595.6,211.6 595.2,211.3 594.8,210.9 594.4,210.4 594.0,209.9 593.6,209.7 593.2,209.7 592.8,209.7 592.4,209.7 592.0,209.7 591.6,212.3 591.2,217.2 590.8,216.0 590.4,215.8 590.0,215.6 589.6,215.5 589.2,215.3 588.8,215.3 588.4,215.3 588.0,215.3 587.6,215.3 587.2,215.3 586.8,215.3 586.4,215.3 586.0,215.3 585.6,215.3 585.2,215.3 584.8,215.3 584.4,215.5 584.0,215.9 583.6,216.3 583.2,216.7 582.8,217.1 582.4,217.4 582.0,217.7 581.6,218.0 581.2,218.3 580.8,218.6 580.4,218.9 580.0,219.4 579.6,220.1 579.2,220.8 578.8,221.4 578.4,222.1 578.0,222.7 577.6,223.2 577.2,223.7 576.8,224.3 576.4,224.7 576.0,225.0 575.6,225.2 575.2,224.9 574.8,224.7 574.4,223.6 574.0,222.4 573.6,221.2 573.2,221.2 572.8,221.2 572.4,221.2 572.0,221.2 571.6,221.2 571.2,221.7 570.8,222.7 570.4,222.2 570.0,221.4 569.6,220.9 569.2,220.8 568.8,220.7 568.4,220.6 568.0,220.5 567.6,220.4 567.2,220.3 566.8,220.3 566.4,220.3 566.0,220.3 565.6,220.3 565.2,220.4 564.8,221.6 564.4,222.9 564.0,224.3 563.6,225.7 563.2,226.1 562.8,226.0 562.4,225.9 562.0,225.6 561.6,225.2 561.2,224.8 560.8,224.4 560.4,224.0 560.0,224.0 559.6,224.0 559.2,224.0 558.8,224.0 558.4,224.0 558.0,224.3 557.6,224.5 557.2,224.8 556.8,225.1 556.4,225.4 556.0,225.9 555.6,226.5 555.2,226.7 554.8,225.7 554.4,224.7 554.0,224.0 553.6,224.0 553.2,224.0 552.8,224.0 552.4,224.0 552.0,224.0 551.6,224.0 551.2,224.0 550.8,224.0 550.4,224.0 550.0,224.0 549.6,224.1 549.2,225.1 548.8,226.1 548.4,226.0 548.0,225.0 547.6,224.7 547.2,224.7 546.8,224.7 546.4,224.7 546.0,224.7 545.6,224.7 545.2,224.7 544.8,224.7 544.4,224.7 544.0,224.7 543.6,224.7 543.2,224.7 542.8,224.7 542.4,224.7 542.0,224.7 541.6,224.7 541.2,224.7 540.8,224.7 540.4,225.0 540.0,225.4 539.6,225.7 539.2,226.0 538.8,226.3 538.4,226.2 538.0,226.0 537.6,225.7 537.2,225.4 536.8,225.2 536.4,224.9 536.0,224.6 535.6,224.1 535.2,223.6 534.8,223.1 534.4,222.6 534.0,222.1 533.6,221.6 533.2,221.6 532.8,221.6 532.4,221.6 532.0,221.6 531.6,221.6 531.2,224.2 530.8,227.3 530.4,228.0 530.0,228.7 529.6,229.4 529.2,230.1 528.8,230.8 528.4,231.0 528.0,230.9 527.6,230.4 527.2,229.7 526.8,229.0 526.4,228.3 526.0,227.6 525.6,226.9 525.2,226.5 524.8,226.5 524.4,226.5 524.0,226.5 523.6,226.5 523.2,226.5 522.8,226.5 522.4,226.5 522.0,226.5 521.6,226.5 521.2,226.5 520.8,226.5 520.4,226.5 520.0,227.1 519.6,228.0 519.2,228.9 518.8,229.8 518.4,230.7 518.0,231.6 517.6,232.3 517.2,232.8 516.8,233.3 516.4,233.8 516.0,234.0 515.6,233.6 515.2,233.2 514.8,232.8 514.4,232.7 514.0,232.6 513.6,232.5 513.2,232.3 512.8,232.2 512.4,230.0 512.0,221.5 511.6,221.5 511.2,221.5 510.8,221.5 510.4,221.5 510.0,221.5 509.6,221.5 509.2,221.5 508.8,225.3 508.4,232.9 508.0,233.8 507.6,234.2 507.2,234.0 506.8,233.6 506.4,233.2 506.0,232.8 505.6,232.4 505.2,229.7 504.8,224.1 504.4,223.3 504.0,223.2 503.6,223.1 503.2,223.0 502.8,222.9 502.4,222.8 502.0,222.8 501.6,222.8 501.2,222.8 500.8,222.8 500.4,224.9 500.0,233.4 499.6,224.4 499.2,222.2 498.8,222.2 498.4,222.2 498.0,222.2 497.6,222.2 497.2,222.3 496.8,222.4 496.4,222.6 496.0,222.7 495.6,223.8 495.2,225.3 494.8,226.7 494.4,228.2 494.0,229.7 493.6,229.9 493.2,230.1 492.8,230.3 492.4,230.5 492.0,230.7 491.6,230.9 491.2,233.6 490.8,236.5 490.4,236.5 490.0,230.6 489.6,224.3 489.2,222.9 488.8,222.9 488.4,222.9 488.0,222.9 487.6,222.9 487.2,223.0 486.8,223.4 486.4,223.7 486.0,224.0 485.6,224.4 485.2,225.0 484.8,228.0 484.4,228.3 484.0,226.5 483.6,226.3 483.2,226.2 482.8,226.1 482.4,225.9 482.0,225.9 481.6,225.9 481.2,225.9 480.8,225.9 480.4,225.9 480.0,227.5 479.6,230.1 479.2,232.7 478.8,234.4 478.4,235.0 478.0,235.7 477.6,235.9 477.2,235.6 476.8,235.3 476.4,235.0 476.0,234.6 475.6,234.5 475.2,234.4 474.8,234.3 474.4,234.2 474.0,234.1 473.6,234.0 473.2,231.2 472.8,227.5 472.4,225.9 472.0,225.9 471.6,225.9 471.2,225.9 470.8,225.9 470.4,225.9 470.0,225.9 469.6,227.7 469.2,230.2 468.8,231.6 468.4,231.9 468.0,232.1 467.6,232.4 467.2,232.6 466.8,232.8 466.4,233.1 466.0,233.3 465.6,234.0 465.2,234.9 464.8,235.8 464.4,236.7 464.0,237.6 463.6,238.4 463.2,238.3 462.8,238.2 462.4,238.0 462.0,237.9 461.6,237.8 461.2,237.8 460.8,237.8 460.4,237.8 460.0,237.8 459.6,237.8 459.2,238.0 458.8,238.3 458.4,238.5 458.0,238.8 457.6,239.0 457.2,239.0 456.8,238.8 456.4,238.6 456.0,238.4 455.6,237.6 455.2,237.1 454.8,236.9 454.4,236.7 454.0,236.4 453.6,236.0 453.2,235.6 452.8,235.1 452.4,234.3 452.0,233.5 451.6,232.7 451.2,231.9 450.8,231.3 450.4,230.9 450.0,230.5 449.6,230.3 449.2,230.3 448.8,230.3 448.4,230.3 448.0,230.3 447.6,231.2 447.2,233.6 446.8,234.1 446.4,234.3 446.0,234.4 445.6,234.5 445.2,234.7 444.8,234.8 444.4,234.9 444.0,235.0 443.6,234.8 443.2,234.3 442.8,231.3 442.4,228.3 442.0,227.0 441.6,226.8 441.2,226.6 440.8,226.5 440.4,226.5 440.0,226.5 439.6,226.5 439.2,226.5 438.8,227.4 438.4,229.2 438.0,231.0 437.6,232.2 437.2,231.7 436.8,228.5 436.4,227.7 436.0,227.7 435.6,227.7 435.2,227.7 434.8,227.7 434.4,232.0 434.0,235.5 433.6,235.8 433.2,236.2 432.8,236.5 432.4,236.6 432.0,236.7 431.6,236.8 431.2,236.9 430.8,237.0 430.4,237.1 430.0,237.2 429.6,237.2 429.2,237.2 428.8,236.5 428.4,235.7 428.0,234.9 427.6,234.7 427.2,234.7 426.8,234.7 426.4,234.7 426.0,234.7 425.6,234.9 425.2,235.3 424.8,235.7 424.4,236.1 424.0,236.5 423.6,237.1 423.2,237.7 422.8,238.3 422.4,238.4 422.0,238.3 421.6,238.2 421.2,238.1 420.8,238.0 420.4,237.9 420.0,237.8 419.6,237.7 419.2,237.6 418.8,237.5 418.4,237.3 418.0,237.2 417.6,237.1 417.2,236.9 416.8,236.8 416.4,236.7 416.0,236.5 415.6,235.7 415.2,234.9 414.8,234.1 414.4,234.1 414.0,234.1 413.6,234.1 413.2,234.1 412.8,234.1 412.4,235.3 412.0,236.7 411.6,238.1 411.2,238.5 410.8,238.2 410.4,237.8 410.0,236.1 409.6,234.3 409.2,232.5 408.8,232.3 408.4,232.3 408.0,232.3 407.6,232.3 407.2,232.3 406.8,232.5 406.4,234.4 406.0,237.8 405.6,237.8 405.2,237.8 404.8,237.8 404.4,237.4 404.0,237.0 403.6,236.6 403.2,235.0 402.8,233.0 402.4,231.0 402.0,230.5 401.6,230.5 401.2,230.5 400.8,230.5 400.4,230.5 400.0,231.5 399.6,233.4 399.2,234.0 398.8,234.5 398.4,235.0 398.0,235.0 397.6,234.8 397.2,234.7 396.8,234.7 396.4,234.7 396.0,234.7 395.6,234.7 395.2,234.8 394.8,236.0 394.4,237.2 394.0,238.2 393.6,237.5 393.2,236.9 392.8,236.5 392.4,236.5 392.0,236.5 391.6,236.5 391.2,236.5 390.8,240.5 390.4,246.5 390.0,239.0 389.6,238.9 389.2,238.7 388.8,238.5 388.4,238.2 388.0,237.4 387.6,236.5 387.2,235.7 386.8,235.3 386.4,235.3 386.0,235.3 385.6,235.3 385.2,235.3 384.8,236.6 384.4,239.3 384.0,238.4 383.6,237.4 383.2,237.0 382.8,236.8 382.4,236.6 382.0,236.4 381.6,236.2 381.2,236.0 380.8,235.8 380.4,235.7 380.0,235.6 379.6,235.4 379.2,235.3 378.8,235.2 378.4,235.0 378.0,234.9 377.6,234.8 377.2,234.7 376.8,234.7 376.4,234.7 376.0,234.7 375.6,234.7 375.2,234.8 374.8,235.4 374.4,235.3 374.0,235.3 373.6,235.3 373.2,235.3 372.8,235.3 372.4,235.3 372.0,235.4 371.6,235.5 371.2,235.5 370.8,235.6 370.4,235.7 370.0,235.6 369.6,235.5 369.2,235.4 368.8,235.3 368.4,235.0 368.0,234.0 367.6,233.0 367.2,232.2 366.8,232.2 366.4,232.2 366.0,232.2 365.6,232.2 365.2,232.2 364.8,232.6 364.4,233.0 364.0,233.4 363.6,235.2 363.2,237.0 362.8,238.5 362.4,238.4 362.0,238.3 361.6,238.2 361.2,238.1 360.8,238.0 360.4,237.9 360.0,237.8 359.6,237.7 359.2,237.4 358.8,237.1 358.4,236.8 358.0,236.5 357.6,236.2 357.2,235.9 356.8,235.9 356.4,235.9 356.0,235.9 355.6,235.9 355.2,235.9 354.8,236.1 354.4,236.2 354.0,236.3 353.6,236.5 353.2,236.6 352.8,236.7 352.4,236.9 352.0,237.0 351.6,237.1 351.2,237.5 350.8,237.9 350.4,238.3 350.0,238.7 349.6,239.1 349.2,239.5 348.8,239.7 348.4,239.7 348.0,239.7 347.6,239.7 347.2,239.7 346.8,239.7 346.4,239.7 346.0,239.7 345.6,239.7 345.2,239.8 344.8,240.7 344.4,241.5 344.0,242.0 343.6,241.6 343.2,241.2 342.8,240.8 342.4,240.4 342.0,240.0 341.6,239.6 341.2,239.3 340.8,239.0 340.4,238.7 340.0,238.4 339.6,238.1 339.2,237.8 338.8,237.8 338.4,237.8 338.0,237.8 337.6,237.8 337.2,237.8 336.8,237.9 336.4,238.1 336.0,238.2 335.6,238.4 335.2,238.5 334.8,238.7 334.4,238.9 334.0,239.0 333.6,240.3 333.2,241.7 332.8,240.8 332.4,239.1 332.0,238.3 331.6,238.1 331.2,237.9 330.8,237.7 330.4,237.5 330.0,237.3 329.6,237.2 329.2,237.2 328.8,237.2 328.4,237.2 328.0,237.2 327.6,237.2 327.2,237.4 326.8,237.6 326.4,237.8 326.0,238.0 325.6,238.2 325.2,238.6 324.8,239.8 324.4,241.0 324.0,242.2 323.6,242.2 323.2,242.3 322.8,242.4 322.4,242.5 322.0,242.6 321.6,242.7 321.2,243.0 320.8,244.7 320.4,246.5 320.0,246.5 319.6,244.5 319.2,242.5 318.8,241.5 318.4,240.7 318.0,239.9 317.6,239.7 317.2,239.7 316.8,239.7 316.4,239.7 316.0,239.7 315.6,239.7 315.2,239.9 314.8,240.0 314.4,240.1 314.0,240.3 313.6,240.4 313.2,240.5 312.8,240.6 312.4,240.6 312.0,240.5 311.6,240.4 311.2,240.3 310.8,240.3 310.4,240.3 310.0,240.3 309.6,240.3 309.2,240.3 308.8,240.4 308.4,240.7 308.0,241.0 307.6,241.3 307.2,241.6 306.8,241.9 306.4,242.3 306.0,243.0 305.6,243.7 305.2,244.2 304.8,243.9 304.4,243.6 304.0,243.1 303.6,242.1 303.2,241.1 302.8,240.3 302.4,240.3 302.0,240.3 301.6,240.3 301.2,240.3 300.8,240.3 300.4,240.4 300.0,240.6 299.6,240.7 299.2,240.8 298.8,241.0 298.4,241.2 298.0,241.4 297.6,241.6 297.2,241.8 296.8,242.0 296.4,242.2 296.0,242.5 295.6,242.8 295.2,243.0 294.8,243.3 294.4,243.6 294.0,243.9 293.6,244.8 293.2,246.8 292.8,247.9 292.4,248.1 292.0,247.8 291.6,246.5 291.2,245.3 290.8,244.7 290.4,244.7 290.0,244.7 289.6,244.7 289.2,244.7 288.8,244.9 288.4,245.5 288.0,246.0 287.6,246.1 287.2,245.9 286.8,245.6 286.4,245.3 286.0,245.0 285.6,244.7 285.2,244.4 284.8,244.1 284.4,244.0 284.0,243.9 283.6,243.8 283.2,243.7 282.8,243.6 282.4,243.6 282.0,243.5 281.6,243.4 281.2,243.4 280.8,243.4 280.4,243.4 280.0,243.4 279.6,243.4 279.2,244.1 278.8,244.8 278.4,245.3 278.0,245.3 277.6,245.3 277.2,245.3 276.8,245.3 276.4,245.3 276.0,245.5 275.6,245.6 275.2,245.8 274.8,246.0 274.4,246.1 274.0,246.3 273.6,246.4 273.2,246.7 272.8,247.1 272.4,247.5 272.0,247.9 271.6,247.9 271.2,247.8 270.8,247.8 270.4,247.8 270.0,247.8 269.6,247.8 269.2,247.8 268.8,247.9 268.4,248.1 268.0,248.3 267.6,248.5 267.2,248.7 266.8,248.9 266.4,249.1 266.0,249.2 265.6,249.3 265.2,249.5 264.8,249.6 264.4,249.7 264.0,249.9 263.6,250.0 263.2,250.1 262.8,250.3 262.4,250.4 262.0,250.5 261.6,250.7 261.2,250.8 260.8,251.2 260.4,252.9 260.0,254.0 259.6,251.5 259.2,248.9 258.8,248.4 258.4,248.4 258.0,248.4 257.6,248.4 257.2,248.4 256.8,248.5 256.4,248.5 256.0,248.6 255.6,248.7 255.2,248.7 254.8,248.8 254.4,248.9 254.0,248.9 253.6,249.0 253.2,249.1 252.8,249.1 252.4,249.2 252.0,249.3 251.6,249.4 251.2,249.5 250.8,249.5 250.4,249.6 250.0,251.7 249.6,254.7 249.2,254.8 248.8,254.7 248.4,254.5 248.0,254.3 247.6,254.1 247.2,252.5 246.8,250.5 246.4,249.6 246.0,249.4 245.6,249.3 245.2,249.2 244.8,249.0 244.4,249.0 244.0,249.0 243.6,249.0 243.2,249.0 242.8,249.0 242.4,249.2 242.0,249.5 241.6,249.7 241.2,249.9 240.8,250.2 240.4,250.5 240.0,250.8 239.6,251.1 239.2,251.4 238.8,251.7 238.4,252.0 238.0,252.5 237.6,253.0 237.2,253.5 236.8,254.1 236.4,254.5 236.0,254.8 235.6,255.1 235.2,255.5 234.8,255.8 234.4,256.1 234.0,256.5 233.6,257.7 233.2,263.5 232.8,264.6 232.4,264.0 232.0,263.6 231.6,263.2 231.2,262.8 230.8,261.7 230.4,260.1 230.0,258.4 229.6,258.0 229.2,257.6 228.8,257.2 228.4,256.8 228.0,256.4 227.6,256.0 227.2,255.6 226.8,255.2 226.4,255.2 226.0,255.2 225.6,255.2 225.2,255.2 224.8,255.2 224.4,255.4 224.0,256.0 223.6,256.5 223.2,256.8 222.8,257.2 222.4,257.6 222.0,258.0 221.6,258.4 221.2,258.7 220.8,259.1 220.4,260.1 220.0,261.3 219.6,262.6 219.2,263.9 218.8,265.4 218.4,266.9 218.0,268.4 217.6,274.9 217.2,278.8 216.8,277.6 216.4,276.3 216.0,275.1 215.6,274.3 215.2,273.5 214.8,272.7 214.4,271.9 214.0,271.1 213.6,270.4 213.2,269.7 212.8,269.0 212.4,268.3 212.0,267.6 211.6,263.9 211.2,261.4 210.8,261.4 210.4,261.4 210.0,261.4 209.6,261.4 209.2,261.4 208.8,261.6 208.4,261.7 208.0,264.7 207.6,267.6 207.2,267.7 206.8,267.8 206.4,267.9 206.0,268.0 205.6,268.1 205.2,268.6 204.8,269.1 204.4,269.6 204.0,270.1 203.6,272.8 203.2,275.6 202.8,278.3 202.4,280.6 202.0,282.6 201.6,284.6 201.2,286.1 200.8,285.2 200.4,282.2 200.0,279.2 199.6,278.0 199.2,276.7 198.8,275.5 198.4,275.1 198.0,275.1 197.6,275.1 197.2,275.1 196.8,275.1 196.4,275.2 196.0,275.5 195.6,275.7 195.2,277.6 194.8,282.6 194.4,283.5 194.0,280.6 193.6,277.3 193.2,275.6 192.8,275.6 192.4,275.6 192.0,275.6 191.6,275.6 191.2,275.8 190.8,278.2 190.4,280.5 190.0,281.5 189.6,282.3 189.2,283.0 188.8,287.4 188.4,295.4 188.0,299.0 187.6,301.6 187.2,316.1 186.8,335.1 186.4,335.1 186.0,311.7 185.6,311.2 185.2,310.1 184.8,307.8 184.4,305.5 184.0,304.2 183.6,303.2 183.2,302.2 182.8,300.7 182.4,298.7 182.0,291.7 181.6,285.4 181.2,285.4 180.8,285.4 180.4,285.4 180.0,285.4 179.6,285.4 179.2,287.4 178.8,299.4 178.4,307.4 178.0,308.4 177.6,309.4 177.2,310.4 176.8,311.4 176.4,314.4 176.0,318.4 175.6,323.0 175.2,330.5 174.8,338.1 174.4,345.6 174.0,409.6 173.6,409.6 173.2,399.2 172.8,378.4 172.4,378.4 172.0,378.4Z" fill="#d62728" stroke="none"/>
<path d="M173.4,139.3 173.4,378.6 173.4,141.3 173.4,377.6 173.6,138.6 173.7,409.8 174.0,349.1 174.4,139.2 174.8,334.8 175.2,139.6 175.6,321.0 176.0,138.3 176.4,311.8 176.7,136.7 176.8,138.6 177.2,309.1 177.6,175.7 178.0,306.0 178.4,175.1 178.8,287.4 179.2,191.0 179.6,285.5 180.0,189.0 180.4,283.5 180.8,189.8 181.2,285.4 181.6,191.6 182.0,286.9 182.4,189.7 182.8,298.4 183.2,185.9 183.6,301.6 184.0,184.9 184.4,305.4 184.8,185.2 185.2,307.2 185.6,171.2 186.0,310.6 186.4,170.8 186.7,162.0 186.7,335.3 186.8,333.9 187.2,188.7 187.6,300.6 188.0,190.4 188.4,290.4 188.8,206.8 189.2,281.2 189.6,206.9 190.0,279.9 190.4,209.0 190.8,277.6 191.2,208.9 191.6,275.4 192.0,207.8 192.4,276.1 192.8,208.5 193.2,275.7 193.6,204.2 193.7,200.3 194.0,279.1 194.4,209.8 194.8,279.8 195.0,284.9 195.2,210.0 195.6,275.9 196.0,208.7 196.4,273.9 196.8,210.4 197.2,274.4 197.3,187.0 197.6,196.6 198.0,275.4 198.4,200.3 198.8,275.5 199.2,206.5 199.6,276.5 200.0,208.2 200.4,278.8 200.8,208.7 201.2,286.9 201.2,284.2 201.6,206.6 202.0,281.4 202.4,194.2 202.8,277.3 203.2,194.1 203.6,269.9 204.0,194.5 204.0,189.6 204.4,269.4 204.8,213.6 205.2,266.8 205.6,217.9 206.0,266.8 206.4,218.6 206.8,267.1 207.2,223.0 207.6,267.2 208.0,225.7 208.4,261.5 208.8,228.2 209.2,260.4 209.6,228.5 210.0,260.8 210.4,228.1 210.8,261.8 211.2,228.0 211.6,262.6 212.0,226.7 212.4,267.3 212.8,226.4 213.2,269.1 213.6,223.0 214.0,270.2 214.4,222.3 214.8,271.0 215.2,221.1 215.6,273.7 216.0,220.7 216.4,275.5 216.8,217.2 217.2,278.1 217.3,279.4 217.6,211.0 217.7,203.9 218.0,268.3 218.4,216.1 218.8,262.9 219.2,220.2 219.6,260.7 220.0,224.7 220.4,257.9 220.8,226.9 221.2,257.1 221.6,228.6 222.0,258.0 222.4,227.6 222.8,256.9 223.2,226.9 223.6,255.5 224.0,224.4 224.4,254.3 224.8,217.2 224.8,215.4 225.2,255.8 225.6,224.4 226.0,254.9 226.4,225.2 226.8,255.8 227.2,223.7 227.6,255.2 228.0,224.3 228.4,255.6 228.8,223.8 229.2,257.7 229.6,225.4 230.0,258.4 230.4,219.2 230.8,261.0 231.2,212.9 231.6,263.2 231.9,211.6 232.0,213.2 232.4,262.0 232.8,215.6 233.2,260.3 233.3,266.9 233.6,222.4 234.0,254.6 234.4,224.2 234.8,256.1 235.2,230.5 235.6,253.3 236.0,229.6 236.4,253.5 236.8,230.5 237.2,252.0 237.6,232.8 238.0,251.6 238.4,230.1 238.8,252.3 239.2,231.3 239.6,249.4 240.0,230.6 240.4,249.3 240.8,230.9 241.2,250.0 241.6,231.5 242.0,249.4 242.4,229.8 242.8,247.7 243.2,229.2 243.6,247.7 244.0,228.2 244.4,249.5 244.8,227.4 245.2,247.5 245.6,227.5 246.0,247.5 246.4,225.3 246.8,249.6 247.2,225.9 247.6,252.4 248.0,224.7 248.4,253.4 248.8,225.6 249.2,253.7 249.6,223.7 249.7,255.2 250.0,249.3 250.4,221.6 250.8,220.2 250.8,249.5 251.2,221.6 251.6,248.5 252.0,222.2 252.1,220.2 252.4,248.7 252.8,228.3 253.2,248.4 253.6,230.7 254.0,247.9 254.4,230.1 254.8,248.5 255.2,229.2 255.6,247.4 256.0,228.4 256.4,246.9 256.8,230.7 257.2,246.5 257.6,228.6 258.0,249.0 258.4,230.6 258.8,248.2 259.2,228.7 259.6,250.0 260.0,229.7 260.0,254.5 260.4,252.5 260.8,229.0 261.2,249.7 261.6,229.6 262.0,251.3 262.4,229.7 262.8,249.8 263.2,228.5 263.6,249.2 264.0,227.6 264.4,248.0 264.8,226.2 265.2,248.7 265.3,220.3 265.6,224.3 266.0,248.2 266.4,228.0 266.8,247.1 267.2,226.9 267.6,247.5 268.0,229.8 268.4,248.3 268.8,228.8 269.2,246.6 269.6,230.1 270.0,247.4 270.4,229.8 270.8,246.7 271.2,229.0 271.6,246.9 272.0,229.6 272.4,246.2 272.8,229.8 273.2,246.4 273.6,230.0 274.0,244.4 274.4,229.4 274.8,246.4 275.2,228.9 275.6,244.0 276.0,231.7 276.4,245.5 276.8,228.7 277.2,245.6 277.6,228.6 278.0,244.8 278.4,228.6 278.8,246.7 278.8,244.7 279.2,228.2 279.6,243.0 280.0,228.0 280.4,242.0 280.8,228.3 281.2,242.9 281.6,227.4 282.0,242.7 282.4,218.5 282.4,219.6 282.8,243.1 283.2,228.2 283.6,242.0 284.0,226.5 284.4,242.9 284.8,228.2 285.2,244.7 285.6,228.4 286.0,243.4 286.4,231.4 286.8,244.8 287.2,230.3 287.6,245.4 288.0,231.8 288.1,247.4 288.4,243.9 288.8,229.6 289.2,244.9 289.6,232.0 290.0,244.1 290.4,231.3 290.8,243.3 291.2,231.3 291.6,244.7 292.0,230.7 292.4,248.2 292.5,249.2 292.8,228.0 293.2,243.8 293.6,226.8 294.0,242.6 294.4,229.5 294.8,243.4 295.2,227.1 295.6,242.4 296.0,227.9 296.4,241.7 296.8,228.2 297.2,239.9 297.6,226.5 298.0,239.5 298.4,225.5 298.8,239.1 299.2,225.7 299.6,239.4 300.0,224.1 300.4,240.0 300.8,225.5 301.2,239.4 301.6,223.1 302.0,240.8 302.2,220.0 302.4,220.6 302.8,239.4 303.2,224.0 303.6,240.1 304.0,227.1 304.4,243.7 304.8,228.1 305.2,243.0 305.6,228.8 305.6,245.5 306.0,242.9 306.4,231.2 306.8,241.9 307.2,232.7 307.6,240.4 308.0,233.2 308.4,239.5 308.8,231.4 309.2,240.2 309.6,229.6 310.0,240.5 310.0,228.6 310.4,231.6 310.8,239.1 311.2,231.5 311.6,240.3 312.0,233.0 312.4,238.7 312.8,230.9 313.2,241.1 313.6,232.6 314.0,239.7 314.4,231.3 314.8,239.0 315.2,231.8 315.6,240.4 316.0,231.9 316.4,237.8 316.8,229.7 317.2,239.2 317.6,228.7 318.0,238.9 318.4,228.1 318.8,240.5 319.2,229.9 319.6,243.0 320.0,229.4 320.1,247.0 320.4,246.0 320.8,229.3 321.2,243.3 321.6,227.2 322.0,241.4 322.4,227.2 322.8,242.9 323.2,226.2 323.6,240.8 324.0,225.6 324.4,241.1 324.8,227.9 325.2,237.0 325.6,225.8 326.0,238.3 326.4,226.6 326.8,236.2 327.2,224.4 327.6,236.5 328.0,222.4 328.4,235.2 328.8,221.7 329.2,237.8 329.6,220.2 330.0,236.4 330.0,220.5 330.4,223.1 330.8,236.7 331.2,224.6 331.6,238.0 332.0,223.5 332.4,238.5 332.8,223.5 333.0,243.2 333.2,241.1 333.6,224.8 334.0,239.4 334.4,222.1 334.8,237.5 335.2,221.7 335.6,238.2 336.0,219.9 336.4,236.3 336.8,214.3 337.2,238.3 337.6,214.8 338.0,237.1 338.1,208.0 338.4,212.4 338.8,237.0 339.2,221.5 339.6,236.5 340.0,220.4 340.4,237.6 340.8,220.2 341.2,239.9 341.6,223.4 342.0,240.4 342.4,227.7 342.8,240.5 343.2,227.5 343.6,241.0 344.0,226.8 344.1,242.6 344.4,241.9 344.8,226.7 345.2,238.1 345.6,227.2 346.0,239.3 346.4,226.0 346.8,238.4 347.2,227.4 347.6,239.4 348.0,226.9 348.4,239.4 348.8,227.1 349.2,238.4 349.6,227.2 350.0,236.7 350.4,228.4 350.8,238.4 351.2,226.8 351.6,237.8 352.0,226.8 352.4,235.4 352.8,227.7 353.2,235.8 353.6,225.9 354.0,234.8 354.4,226.4 354.8,236.0 355.2,225.8 355.6,236.7 356.0,223.3 356.4,234.5 356.8,222.1 357.2,236.4 357.6,222.6 358.0,235.2 358.4,219.8 358.8,237.7 359.2,216.4 359.6,236.4 360.0,216.4 360.4,238.2 360.8,215.2 361.2,238.2 361.6,217.2 362.0,239.1 362.4,214.9 362.5,213.8 362.8,236.2 363.2,216.1 363.6,234.4 363.8,239.2 364.0,217.0 364.4,233.4 364.8,216.8 365.2,232.3 365.6,218.2 366.0,230.6 366.4,217.9 366.8,232.0 367.2,218.0 367.6,230.6 368.0,217.1 368.2,213.9 368.4,233.9 368.8,224.3 369.2,236.0 369.6,225.9 370.0,236.3 370.4,225.5 370.8,236.1 371.2,225.6 371.6,234.2 372.0,226.0 372.4,235.1 372.8,221.3 373.2,235.1 373.6,220.5 374.0,233.9 374.4,218.2 374.8,235.2 375.0,238.0 375.2,217.4 375.6,234.9 376.0,218.9 376.4,232.9 376.8,219.4 377.2,235.4 377.6,216.8 377.7,214.3 378.0,233.2 378.4,218.5 378.8,235.0 379.2,219.6 379.6,233.8 380.0,218.0 380.4,235.0 380.8,218.0 381.2,236.3 381.6,219.1 382.0,236.5 382.4,219.9 382.8,236.6 383.2,218.1 383.6,236.2 384.0,218.3 384.4,238.7 384.5,240.5 384.8,220.5 385.2,235.7 385.6,219.0 386.0,234.8 386.4,220.6 386.8,233.9 387.2,222.2 387.6,236.9 388.0,224.7 388.4,237.2 388.8,224.6 389.2,236.9 389.6,224.1 390.0,239.8 390.4,211.5 390.4,199.5 390.4,246.7 390.8,237.2 391.2,221.3 391.6,235.0 392.0,222.2 392.4,235.3 392.8,222.9 393.2,235.2 393.6,223.2 394.0,235.9 394.1,238.6 394.4,222.7 394.8,233.8 395.2,223.4 395.6,233.9 396.0,221.7 396.4,234.4 396.8,221.2 397.2,235.1 397.6,219.7 398.0,234.0 398.4,218.4 398.8,236.1 398.8,234.5 399.2,216.9 399.6,231.1 400.0,218.2 400.4,229.0 400.8,217.1 401.2,229.7 401.6,214.5 402.0,228.9 402.4,215.1 402.8,230.9 403.2,212.7 403.6,234.8 404.0,209.2 404.4,235.4 404.8,211.3 405.2,237.1 405.6,211.3 406.0,237.8 406.1,243.0 406.4,210.9 406.8,232.9 407.2,210.2 407.6,232.4 408.0,206.1 408.4,232.0 408.6,203.0 408.8,202.5 409.2,233.1 409.6,203.5 409.6,203.0 410.0,233.2 410.4,220.9 410.8,237.7 411.2,219.9 411.6,238.9 411.6,237.9 412.0,220.6 412.4,233.6 412.8,221.8 413.2,233.7 413.6,221.6 414.0,232.7 414.4,221.2 414.8,234.1 415.2,219.5 415.6,235.8 416.0,219.2 416.4,237.4 416.8,218.2 417.2,237.3 417.6,217.6 418.0,237.5 418.4,215.7 418.8,237.1 419.1,215.8 419.2,219.0 419.6,237.0 420.0,220.4 420.1,238.4 420.4,237.4 420.8,220.9 421.2,238.8 421.6,221.3 422.0,237.3 422.4,238.4 422.4,220.9 422.8,236.9 423.2,222.1 423.6,237.7 424.0,219.1 424.4,236.0 424.8,218.9 425.2,234.6 425.6,217.6 426.0,235.4 426.4,215.6 426.8,235.2 427.2,215.7 427.6,233.7 428.0,214.1 428.4,233.7 428.8,213.6 429.2,237.8 429.5,237.2 429.6,203.9 429.6,205.6 430.0,236.1 430.4,208.8 430.8,236.4 431.2,206.5 431.6,235.9 432.0,206.1 432.4,237.2 432.4,235.1 432.8,205.9 433.2,236.6 433.3,203.1 433.6,203.1 434.0,233.8 434.4,206.3 434.8,228.1 435.2,207.6 435.6,226.1 436.0,207.3 436.4,228.5 436.8,207.4 437.2,229.8 437.5,232.4 437.6,207.5 438.0,230.5 438.4,207.7 438.8,224.9 439.2,207.2 439.6,224.8 440.0,208.7 440.4,225.3 440.8,209.2 441.2,224.7 441.6,208.4 442.0,227.1 442.4,209.4 442.8,229.2 443.2,208.9 443.6,234.7 443.6,234.9 444.0,208.1 444.4,234.3 444.8,210.1 445.2,233.0 445.6,208.6 446.0,232.4 446.4,207.8 446.7,234.9 446.8,234.1 447.2,205.4 447.6,228.8 448.0,207.8 448.4,229.4 448.8,206.4 449.2,229.9 449.5,203.3 449.6,204.0 450.0,231.0 450.4,203.4 450.8,229.4 451.2,202.8 451.6,232.8 452.0,203.0 452.4,233.4 452.8,204.9 453.2,234.8 453.6,205.7 454.0,235.1 454.4,205.0 454.8,235.9 455.1,203.3 455.2,204.4 455.6,237.9 456.0,222.9 456.4,237.5 456.8,224.8 457.2,238.6 457.5,239.9 457.6,226.1 458.0,237.8 458.4,224.9 458.8,238.3 459.2,224.6 459.6,236.8 460.0,223.8 460.4,238.3 460.8,219.3 461.2,238.3 461.6,217.1 462.0,237.9 462.4,215.5 462.8,238.2 462.8,212.3 463.2,214.2 463.6,237.1 464.0,215.6 464.4,239.2 464.4,235.1 464.8,215.9 465.2,233.7 465.6,213.2 466.0,233.2 466.4,215.3 466.8,232.6 467.2,213.4 467.6,232.8 468.0,209.8 468.4,231.6 468.8,210.0 469.2,229.7 469.6,208.0 470.0,224.6 470.4,207.8 470.8,225.5 471.2,207.3 471.2,207.0 471.6,226.5 472.0,210.1 472.4,224.3 472.8,211.4 473.2,229.4 473.6,211.1 474.0,232.7 474.4,211.5 474.8,235.0 475.2,206.9 475.6,232.6 476.0,206.5 476.4,233.5 476.8,207.5 477.2,233.8 477.6,205.9 478.0,233.6 478.1,237.4 478.4,207.7 478.8,234.2 479.2,205.9 479.6,229.7 480.0,205.0 480.4,225.7 480.8,203.9 481.2,224.6 481.6,201.0 482.0,224.3 482.4,200.4 482.8,226.5 483.2,201.4 483.6,226.5 484.0,202.4 484.4,227.4 484.6,232.4 484.8,204.2 485.2,223.2 485.6,207.1 486.0,223.6 486.4,206.0 486.8,222.4 487.2,207.9 487.6,221.1 488.0,208.1 488.4,222.5 488.8,207.4 489.2,221.7 489.6,208.5 490.0,228.2 490.4,207.7 490.6,236.7 490.8,235.8 491.2,208.4 491.6,230.6 492.0,207.4 492.4,229.7 492.8,208.8 493.2,229.9 493.6,209.3 494.0,229.5 494.4,206.1 494.8,224.8 495.2,206.3 495.6,221.8 495.9,203.6 496.0,206.2 496.4,221.9 496.8,206.8 497.2,221.2 497.6,207.2 498.0,221.6 498.4,208.6 498.8,222.1 499.2,206.9 499.6,221.7 500.0,207.5 500.0,233.6 500.4,223.5 500.8,207.7 501.2,223.6 501.6,208.0 502.0,222.4 502.4,209.6 502.8,222.1 503.2,209.9 503.6,223.9 504.0,209.1 504.4,222.0 504.8,209.3 505.2,225.4 505.6,208.9 506.0,231.8 506.4,208.2 506.6,206.1 506.8,231.4 507.2,206.4 507.5,235.5 507.6,234.5 508.0,207.1 508.4,229.4 508.8,206.9 509.2,219.6 509.6,207.3 510.0,221.1 510.4,208.9 510.8,221.1 511.2,206.1 511.6,221.6 512.0,205.6 512.4,225.8 512.8,205.2 513.2,232.0 513.6,204.1 514.0,230.9 514.4,206.6 514.8,232.0 515.2,205.1 515.6,231.7 516.0,211.0 516.2,235.5 516.4,233.4 516.8,213.2 517.2,230.8 517.6,215.2 518.0,231.2 518.4,214.9 518.8,229.0 519.2,214.9 519.6,226.5 520.0,216.5 520.4,227.3 520.8,216.0 521.2,225.0 521.6,213.4 522.0,224.6 522.4,214.5 522.8,225.3 523.2,211.5 523.6,226.1 524.0,212.3 524.4,225.8 524.8,209.2 525.0,209.5 525.2,225.2 525.6,211.7 526.0,227.5 526.4,213.3 526.8,229.3 527.2,213.4 527.6,230.9 528.0,215.2 528.1,231.4 528.4,231.5 528.8,213.3 529.2,229.8 529.6,211.6 530.0,228.3 530.4,211.1 530.8,226.4 531.2,209.8 531.6,221.4 532.0,208.2 532.4,221.6 532.8,204.6 533.2,220.1 533.6,204.8 534.0,220.7 534.4,206.7 534.8,223.2 535.2,205.0 535.6,223.2 536.0,207.9 536.4,223.2 536.8,208.1 537.2,224.6 537.6,212.0 538.0,226.3 538.4,215.5 538.8,227.4 538.8,224.6 539.2,216.1 539.6,224.6 540.0,219.6 540.4,223.9 540.8,217.6 541.2,225.4 541.6,218.1 542.0,225.3 542.4,218.8 542.8,223.4 543.2,218.2 543.6,222.9 544.0,216.9 544.4,224.3 544.8,215.9 545.0,214.5 545.2,222.8 545.6,217.9 546.0,222.7 546.4,219.0 546.8,225.3 547.2,218.0 547.6,224.2 548.0,218.5 548.4,226.2 548.8,227.7 548.8,218.2 549.2,223.7 549.6,217.2 550.0,224.6 550.4,218.2 550.8,224.8 551.2,217.3 551.6,224.9 552.0,217.2 552.4,224.2 552.8,218.1 553.2,223.0 553.6,218.1 554.0,223.7 554.4,215.8 554.4,217.9 554.8,224.2 555.0,227.7 555.2,217.6 555.6,224.9 556.0,219.7 556.4,224.7 556.8,221.0 557.2,223.8 557.6,219.3 558.0,223.7 558.4,220.1 558.8,224.0 559.2,220.9 559.6,223.8 560.0,218.1 560.4,222.5 560.8,216.7 561.2,223.6 561.2,213.9 561.6,216.8 562.0,224.2 562.4,216.7 562.8,225.6 562.8,226.4 563.2,217.6 563.6,225.5 564.0,215.4 564.4,222.2 564.8,215.6 565.2,218.4 565.6,216.2 566.0,218.7 566.4,215.3 566.8,220.6 567.2,213.5 567.6,218.7 568.0,209.9 568.4,219.2 568.8,210.5 569.2,221.1 569.6,209.8 570.0,219.8 570.4,209.4 570.8,223.6 570.8,221.3 571.2,210.4 571.6,220.5 572.0,206.9 572.4,219.7 572.8,206.4 573.2,220.1 573.6,206.1 574.0,221.8 574.4,206.0 574.5,200.8 574.8,224.0 575.2,212.9 575.6,224.7 575.6,226.1 576.0,212.9 576.4,224.1 576.8,213.5 577.2,221.6 577.6,213.2 578.0,220.7 578.4,212.0 578.8,221.6 579.2,211.2 579.6,218.5 580.0,210.5 580.4,218.5 580.8,209.4 580.9,208.3 581.2,216.6 581.6,210.1 582.0,216.2 582.4,211.0 582.8,215.8 583.2,212.3 583.6,215.8 584.0,210.5 584.4,215.5 584.8,210.1 585.2,215.9 585.6,209.6 586.0,214.3 586.4,208.5 586.8,213.4 587.2,209.3 587.6,213.9 588.0,208.1 588.4,215.3 588.8,207.1 589.2,216.0 589.6,203.9 590.0,216.2 590.4,203.7 590.8,214.6 591.2,200.5 591.4,218.6 591.6,209.5 592.0,198.4 592.2,193.5 592.4,208.2 592.8,196.4 593.2,209.9 593.6,196.6 594.0,209.1 594.4,199.9 594.8,209.1 595.2,199.3 595.6,211.9 595.8,211.7 596.0,197.7 596.4,212.0 596.7,211.7 596.8,198.3 597.2,210.2 597.6,196.7 598.0,209.7 598.4,195.9 598.8,208.9 599.2,194.4 599.6,209.0 600.0,191.9 600.4,209.5 600.8,193.4 601.2,211.1 601.6,196.7 601.9,190.5 602.0,210.7 602.4,206.3 602.8,213.5 603.2,207.1 603.6,223.6 603.6,217.1 604.0,208.2 604.4,220.1 604.8,209.8 605.2,220.4 605.6,210.1 606.0,218.8 606.4,211.2 606.8,217.3 607.2,210.5 607.6,219.1 608.0,212.2 608.4,217.4 608.8,212.1 609.2,219.6 609.6,213.0 610.0,223.6 610.4,212.4 610.8,225.2 611.2,213.7 611.6,241.8 611.8,241.7 612.0,215.4 612.4,227.8 612.8,216.8 613.2,222.6 613.6,215.3 614.0,222.5 614.4,216.2 614.8,221.9 615.2,217.7 615.6,221.4 616.0,216.0 616.4,222.3 616.8,216.7 617.2,222.8 617.6,216.4 618.0,220.5 618.4,217.5 618.8,221.4 619.2,215.9 619.6,220.9 620.0,215.4 620.4,220.5 620.8,213.6 621.2,219.1 621.6,213.5 622.0,221.5 622.4,211.8 622.8,220.5 623.2,214.1 623.6,221.4 624.0,213.7 624.4,222.9 624.8,211.8 625.2,221.4 625.6,213.5 625.8,223.9 626.0,219.5 626.4,213.2 626.8,217.8 627.2,213.0 627.6,218.0 628.0,212.5 628.4,217.0 628.8,211.7 629.2,219.0 629.6,213.5 629.9,222.6 630.0,223.0 630.4,211.4 630.8,222.3 631.2,212.3 631.6,221.8 631.7,222.6 632.0,213.2 632.4,221.3 632.8,210.1 633.2,219.7 633.4,206.1 633.6,206.7 634.0,217.4 634.4,207.7 634.8,215.6 635.2,209.7 635.6,217.3 636.0,209.8 636.4,216.4 636.8,209.0 637.2,215.5 637.6,207.3 638.0,214.4 638.4,208.6 638.8,215.5 639.2,205.9 639.6,214.1 640.0,207.5 640.4,214.1 640.8,206.6 641.2,213.3 641.6,204.8 642.0,212.3 642.4,203.5 642.8,212.2 643.2,202.4 643.6,210.2 644.0,204.7 644.4,211.0 644.8,201.9 645.2,209.5 645.6,203.9 646.0,209.6 646.4,200.8 646.8,210.7 647.2,200.9 647.6,211.5 648.0,200.2 648.1,213.6 648.4,211.9 648.8,200.4 649.2,212.6 649.6,196.7 650.0,209.2 650.4,197.2 650.8,209.8 651.2,196.1 651.6,208.4 652.0,195.6 652.4,210.6 652.8,195.2 653.2,209.2 653.6,197.4 654.0,210.8 654.4,196.4 654.8,209.0 655.2,194.3 655.6,209.7 656.0,195.2 656.4,211.3 656.8,196.1 656.9,213.0 657.2,210.9 657.6,193.5 658.0,206.6 658.4,193.7 658.8,206.4 659.2,193.3 659.6,208.4 660.0,191.5 660.4,206.0 660.8,189.7 661.2,208.8 661.4,188.7 661.6,190.7 662.0,219.8 662.4,189.1 662.8,217.8 663.2,190.6 663.4,188.7 663.6,220.9 664.0,195.3 664.4,220.6 664.8,197.0 665.2,221.2 665.6,195.6 666.0,222.5 666.4,199.5 666.8,223.4 667.2,203.2 667.6,222.7 668.0,204.0 668.4,223.0 668.8,208.4 669.2,225.8 669.6,214.3 670.0,223.5 670.0,228.4 670.4,212.8 670.8,224.1 671.2,215.2 671.6,221.6 672.0,214.9 672.4,223.7 672.8,213.6 673.2,221.0 673.5,211.6 673.6,214.3 674.0,222.5 674.4,215.8 674.8,220.9 675.2,213.7 675.6,222.7 676.0,215.3 676.1,225.5 676.4,220.6 676.8,214.9 676.9,211.6 677.2,220.1 677.6,212.8 678.0,221.3 678.4,213.1 678.8,220.2 679.2,214.1 679.6,219.3 680.0,213.2 680.4,221.7 680.8,212.8 681.2,222.5 681.6,215.7 682.0,223.8 682.4,214.9 682.8,224.3 683.1,225.9 683.2,217.6 683.6,224.9 684.0,216.2 684.4,223.5 684.8,218.0 685.2,225.1 685.6,217.8 686.0,224.7 686.4,217.5 686.8,222.8 687.2,217.7 687.6,224.0 688.0,217.4 688.4,224.2 688.8,216.2 689.2,224.1 689.6,215.4 690.0,223.6 690.4,214.5 690.8,220.7 691.2,214.3 691.6,219.4 692.0,212.2 692.4,219.2 692.8,213.0 693.2,221.3 693.6,210.9 694.0,220.7 694.4,212.1 694.8,219.0 695.2,213.3 695.6,217.9 696.0,211.7 696.4,217.8 696.8,208.3 697.2,217.5 697.6,206.7 698.0,219.9 698.4,205.4 698.8,219.2 699.2,205.4 699.6,219.8 700.0,205.8 700.4,215.5 700.8,204.0 701.2,212.0 701.6,204.8 702.0,209.9 702.4,203.0 702.8,211.8 703.2,198.9 703.6,210.0 704.0,199.2 704.4,211.6 704.8,196.7 705.2,209.8 705.6,190.6 706.0,207.6 706.4,190.5 706.8,207.7 707.2,188.5 707.6,208.9 707.6,187.3 708.0,189.9 708.4,209.2 708.8,196.2 709.1,218.3 709.2,215.7 709.6,197.4 710.0,212.0 710.4,198.8 710.8,213.4 711.2,199.5 711.6,211.2 712.0,200.8 712.4,210.5 712.8,201.9 713.2,206.2 713.6,199.9 714.0,208.5 714.4,198.1 714.8,206.1 715.2,194.1 715.6,206.7 715.8,190.8 716.0,192.2 716.1,213.9 716.4,209.5 716.8,194.4 717.2,207.7 717.6,195.1 718.0,206.5 718.4,196.6 718.8,206.8 719.2,197.0 719.6,207.9 720.0,195.6 720.4,207.2 720.8,193.6 721.2,204.6 721.6,189.6 722.0,203.5 722.4,186.9 722.8,205.0 723.2,186.0 723.6,203.4 724.0,185.5 724.4,204.3 724.8,186.3 725.2,203.9 725.6,186.6 726.0,204.3 726.4,185.7 726.8,201.4 727.2,186.3 727.6,201.2 728.0,185.6 728.4,200.8 728.8,182.8 729.2,199.3 729.6,177.1 730.0,198.2 730.4,173.8 730.8,199.8 730.9,172.3 731.2,175.6 731.6,199.4 732.0,177.0 732.4,198.0 732.8,176.3 733.2,198.0 733.6,175.0 734.0,200.2 734.4,174.0 734.8,200.5 735.2,171.0 735.6,202.8 735.9,167.3 736.0,171.5 736.4,208.8 736.8,186.8 737.2,217.0 737.5,221.1 737.6,192.3 738.0,214.4 738.4,194.9 738.8,213.3 739.2,197.0 739.6,214.5 740.0,200.2 740.4,216.1 740.8,200.3 741.2,218.3 741.6,222.7 741.6,199.8 742.0,218.0 742.4,202.5 742.8,216.8 743.2,203.7 743.6,215.4 744.0,203.6 744.4,216.8 744.8,201.9 745.2,215.5 745.6,204.2 745.6,219.9 746.0,215.7 746.4,203.0 746.8,213.3 747.2,203.7 747.6,211.9 748.0,198.9 748.4,209.1 748.8,195.8 749.2,210.6 749.6,189.1 750.0,210.1 750.4,192.1 750.6,185.8 750.8,209.5 751.2,194.3 751.6,207.3 752.0,192.8 752.4,209.5 752.8,194.6 753.2,207.6 753.6,194.9 754.0,209.2 754.4,191.5 754.8,208.7 755.2,105.5 755.6,218.2 755.6,218.6 756.0,79.2 756.4,74.8 756.4,206.0 756.8,96.4 757.2,207.0 757.6,184.5 758.0,205.3 758.4,183.8 758.8,200.6 759.2,183.5 759.6,199.3 760.0,186.0 760.4,199.7 760.8,184.9 761.2,197.9 761.2,182.6 761.6,184.9 762.0,198.4 762.4,185.3 762.8,200.5 763.2,185.4 763.2,203.2 763.6,195.7 764.0,184.1 764.4,195.9 764.8,184.2 765.2,194.1 765.6,183.6 766.0,193.9 766.4,182.9 766.8,193.6 767.2,181.1 767.2,183.7 767.6,195.5 768.0,183.5 768.4,193.5 768.8,182.0 769.2,195.4 769.6,184.2 769.7,196.5 770.0,192.9 770.4,183.0 770.8,193.0 771.2,181.0 771.6,192.5 772.0,181.9 772.4,191.6 772.8,181.4 773.1,178.3 773.2,193.8 773.6,181.6 774.0,197.1 774.4,183.0 774.8,200.0 774.8,202.0 775.2,183.7 775.6,197.0 776.0,186.6 776.4,196.5 776.8,186.8 777.2,195.1 777.6,186.6 778.0,193.5 778.4,183.8 778.8,195.1 779.2,181.5 779.6,195.9 780.0,179.4 780.3,175.0 780.4,196.2 780.8,183.6 781.2,197.9 781.4,204.2 781.6,185.7 782.0,199.0 782.4,184.8 782.8,196.4 783.2,186.7 783.6,195.7 784.0,187.1 784.4,195.8 784.8,186.2 785.2,197.4 785.6,184.8 786.0,196.4 786.4,182.8 786.8,196.0 787.2,180.1 787.2,180.4 787.6,196.4 788.0,184.3 788.4,197.9 788.8,187.6 789.2,206.7 789.2,204.5 789.6,191.6 790.0,200.4 790.4,189.0 790.8,197.8 791.2,190.7 791.6,197.8 792.0,188.0 792.4,198.3 792.8,185.3 793.2,199.6 793.6,186.1 794.0,197.6 794.4,185.7 794.8,200.4 795.2,183.8 795.6,198.7 796.0,184.9 796.4,200.7 796.8,184.6 797.2,198.8 797.6,183.9 798.0,200.8 798.4,181.7 798.8,196.1 799.2,181.9 799.6,193.2 800.0,178.2 800.4,194.4 800.6,176.6 800.8,177.3 801.2,192.2 801.6,179.3 802.0,193.9 802.4,181.8 802.8,193.8 803.2,185.4 803.6,196.6 804.0,184.9 804.4,196.5 804.7,197.5 804.8,186.9 805.2,193.8 805.6,185.3 806.0,192.5 806.4,181.7 806.8,192.4 807.2,177.0 807.6,191.6 808.0,175.1 808.4,190.3 808.8,175.1 809.2,191.1 809.6,175.5 810.0,190.0 810.4,193.6 810.4,175.1 810.8,188.1 811.2,176.5 811.6,187.1 812.0,175.0 812.4,184.0 812.8,172.3 813.2,184.2 813.6,169.9 814.0,182.6 814.4,169.6 814.8,183.2 815.2,167.9 815.6,183.0 816.0,168.0 816.2,187.4 816.4,182.6 816.4,161.7 816.8,168.3 817.2,185.3 817.6,166.6 818.0,186.1 818.4,167.7 818.8,184.6 819.2,168.7 819.6,185.9 820.0,166.9 820.4,194.7 820.8,164.7 821.2,210.8 821.2,218.0 821.6,164.1 822.0,201.3 822.4,163.6 822.8,201.0 823.2,157.1 823.6,198.7 824.0,155.8 824.4,200.0 824.5,154.8 824.8,159.1 825.2,200.6 825.6,159.5 825.9,202.0 826.0,197.8 826.4,156.8 826.8,194.5 827.2,158.9 827.6,192.8 828.0,158.4 828.4,186.7 828.8,155.8 829.2,186.6 829.6,152.9 830.0,184.9 830.4,147.1 830.8,187.1 831.2,146.8 831.4,146.1 831.6,185.0 832.0,151.6 832.4,184.6 832.8,155.2 833.2,186.4 833.6,157.9 834.0,189.2 834.4,162.2 834.8,190.1 835.2,166.3 835.3,192.7 835.6,191.2 836.0,168.2 836.4,189.5 836.8,165.7 837.2,190.5 837.6,166.7 838.0,190.4 838.4,163.6 838.8,191.0 839.2,157.8 839.6,189.5 839.8,191.7 840.0,156.7 840.4,185.4 840.8,154.2 841.2,176.7 841.6,151.5 842.0,172.0 842.2,146.6 842.4,147.2 842.8,171.1 843.2,148.6 843.6,171.3 844.0,147.8 844.4,170.5 844.8,148.9 845.2,170.9 845.6,151.7 846.0,174.1 846.4,151.0 846.8,173.7 847.2,151.9 847.6,176.5 848.0,151.3 848.1,177.4 848.4,174.3 848.8,153.2 849.2,173.8 849.6,151.5 850.0,170.8 850.4,151.1 850.8,171.1 851.2,153.1 851.6,171.8 852.0,149.6 852.4,170.3 852.8,147.7 853.2,172.6 853.6,148.1 853.8,173.3 854.0,164.9 854.4,145.5 854.8,165.4 855.2,144.9 855.6,163.3 856.0,144.7 856.1,135.3 856.4,165.9 856.8,141.3 857.2,165.0 857.6,139.5 858.0,169.8 858.1,173.6 858.4,139.0 858.8,168.6 859.2,140.7 859.6,170.0 860.0,140.8 860.4,168.5 860.8,152.8 861.2,202.7 861.2,202.7 861.6,167.8 862.0,192.4 862.4,168.8 862.8,188.6 863.2,170.3 863.6,187.7 864.0,169.8 864.4,183.6 864.8,169.4 865.2,180.6 865.6,167.8 866.0,178.9 866.4,164.3 866.8,179.3 866.9,155.3 867.2,159.4 867.6,178.9 868.0,162.1 868.3,210.2 868.4,200.1 868.8,172.5 869.2,201.3 869.6,182.3 870.0,198.4 870.4,184.4 870.8,199.7 871.2,184.4 871.6,197.7 872.0,181.0 872.4,197.0 872.8,174.9 873.2,194.0 873.6,171.6 874.0,193.2 874.4,170.1 874.8,193.5 875.2,168.6 875.6,192.5 875.8,165.0 876.0,165.8 876.4,198.3 876.8,179.5 877.2,207.1 877.6,190.5 877.8,212.4 878.0,208.0 878.4,190.0 878.8,205.0 879.2,189.2 879.6,205.2 880.0,189.5 880.4,202.0 880.8,185.4 881.2,197.6 881.6,181.4 882.0,197.8 882.4,179.2 882.8,197.5 883.2,179.8 883.6,173.9 883.6,197.2 884.0,180.3 884.4,195.8 884.8,179.5 885.2,197.5 885.6,178.5 886.0,205.5 886.4,178.5 886.8,207.8 887.2,174.7 887.6,217.2 887.6,218.6 888.0,169.3 888.4,213.8 888.8,167.7 889.2,212.8 889.6,169.0 890.0,211.3 890.4,168.8 890.8,210.7 891.2,167.0 891.4,159.8 891.6,209.8 892.0,162.1 892.4,208.7 892.8,161.2 893.2,199.5 893.6,161.7 894.0,190.7 894.4,162.6 894.8,179.4 895.2,152.0 895.6,174.2 896.0,145.2 896.4,174.5 896.8,140.9 897.2,174.1 897.6,136.9 898.0,176.3 898.1,128.0 898.4,129.6 898.8,176.3 899.2,131.0 899.6,185.1 899.7,197.4 900.0,130.9 900.4,193.5 900.8,132.8 901.2,193.1 901.6,132.3 902.0,193.8 902.4,132.1 902.8,192.7 903.2,127.1 903.6,193.8 903.9,196.4 904.0,126.8 904.4,180.0 904.8,125.6 905.2,179.0 905.6,124.1 906.0,178.7 906.4,124.8 906.8,181.4 907.2,121.8 907.5,119.1 907.5,186.1 907.6,182.6 908.0,120.4 908.4,182.7 908.8,120.3 909.2,178.9 909.6,122.3 910.0,177.5 910.4,117.3 910.8,175.5 911.2,117.1 911.6,172.2 912.0,116.4 912.4,168.3 912.8,117.3 913.2,169.0 913.6,105.4 914.0,170.4 914.4,107.6 914.8,168.6 915.2,107.2 915.6,167.8 916.0,107.3 916.4,165.7 916.8,107.8 917.2,165.9 917.6,106.3 918.0,158.5 918.4,107.1 918.8,151.0 919.2,103.7 919.6,150.1 920.0,101.3 920.4,149.0 920.8,101.4 921.2,145.4 921.6,99.9 922.0,143.8 922.4,93.6 922.8,143.1 923.2,90.1 923.6,144.4 924.0,88.1 924.4,144.2 924.5,84.7 924.8,88.3 925.2,144.8 925.6,95.7 926.0,142.3 926.2,145.5 926.4,97.0 926.8,143.6 927.2,97.5 927.6,143.2 928.0,97.6 928.4,136.3 928.8,84.0 929.2,133.8 929.6,80.1 929.9,78.6 930.0,134.7 930.4,79.0 930.8,136.0 931.2,78.8 931.6,135.6 931.7,78.6 932.0,80.5 932.4,139.9 932.8,83.4 933.2,144.0 933.2,147.4 933.6,103.5 934.0,144.8 934.2,124.5 934.2,144.7 934.2,123.7 934.2,144.7" fill="none" stroke="#d62728" stroke-width="2.78" stroke-linejoin="round" stroke-linecap="butt"/>
<path d="M205.5,427.2V421.5M313.5,427.2V421.5M420.5,427.2V421.5M527.5,427.2V421.5M635.5,427.2V421.5M742.5,427.2V421.5M849.5,427.2V421.5M957.5,427.2V421.5M135,73.5H141.5M135,133.5H141.5M135,192.5H141.5M135,251.5H141.5M135,310.5H141.5M135,369.5H141.5" stroke="#000" stroke-width="1.111" fill="none"/>
<path d="M141.5,427.2V424.42M162.5,427.2V424.42M184.5,427.2V424.42M227.5,427.2V424.42M248.5,427.2V424.42M270.5,427.2V424.42M291.5,427.2V424.42M334.5,427.2V424.42M356.5,427.2V424.42M377.5,427.2V424.42M399.5,427.2V424.42M442.5,427.2V424.42M463.5,427.2V424.42M484.5,427.2V424.42M506.5,427.2V424.42M549.5,427.2V424.42M570.5,427.2V424.42M592.5,427.2V424.42M613.5,427.2V424.42M656.5,427.2V424.42M678.5,427.2V424.42M699.5,427.2V424.42M721.5,427.2V424.42M764.5,427.2V424.42M785.5,427.2V424.42M807.5,427.2V424.42M828.5,427.2V424.42M871.5,427.2V424.42M892.5,427.2V424.42M914.5,427.2V424.42M935.5,427.2V424.42M135,61.5H138.42M135,85.5H138.42M135,97.5H138.42M135,109.5H138.42M135,121.5H138.42M135,144.5H138.42M135,156.5H138.42M135,168.5H138.42M135,180.5H138.42M135,204.5H138.42M135,215.5H138.42M135,227.5H138.42M135,239.5H138.42M135,263.5H138.42M135,275.5H138.42M135,287.5H138.42M135,298.5H138.42M135,322.5H138.42M135,334.5H138.42M135,346.5H138.42M135,358.5H138.42M135,381.5H138.42M135,393.5H138.42M135,405.5H138.42M135,417.5H138.42" stroke="#000" stroke-width="0.833" fill="none"/>
<path d="M135.5,57.95V428.05M972.5,57.95V428.05M134.95,58.5H973.05M134.95,427.5H973.05" stroke="#000" stroke-width="1.111" fill="none"/>
<g style="filter:grayscale(1)">
<text transform="translate(355.45,48.0) scale(1.0811,0.975)" font-size="20.4">V417</text>
<text transform="translate(415.03,48.0) scale(0.9702,1.0)" font-size="20.4">CMa</text>
<text transform="translate(465.05,48.3) scale(1.0,1.03)" font-size="20.4">|</text>
<text transform="translate(477.42,48.0) scale(1.1024,0.96)" font-size="20.4">2026-01-13</text>
<text transform="translate(601.17,48.3) scale(1.0,1.03)" font-size="20.4">|</text>
<text transform="translate(613.41,48.0) scale(1.1391,0.96)" font-size="20.4">14:11:45</text>
<text transform="translate(710.19,48.3) scale(1.0,1.03)" font-size="20.4">|</text>
<text transform="translate(723.02,48.0) scale(0.8837,1.0)" font-size="20.4">P</text>
<text transform="translate(732.7,51.9) scale(0.7,1.22)" font-size="20.4" stroke="#000" stroke-width="0.6" stroke-linejoin="round">J</text>
<text transform="translate(740.74,48.0) scale(1.0,1.0)" font-size="20.4">L</text>
<text transform="translate(184.97,445.0) scale(1.0952,0.965)" font-size="17.0">4000</text>
<text transform="translate(292.12,445.0) scale(1.0952,0.965)" font-size="17.0">4500</text>
<text transform="translate(399.64,445.0) scale(1.089,0.965)" font-size="17.0">5000</text>
<text transform="translate(506.75,445.0) scale(1.089,0.965)" font-size="17.0">5500</text>
<text transform="translate(613.73,445.0) scale(1.089,0.965)" font-size="17.0">6000</text>
<text transform="translate(720.86,445.0) scale(1.089,0.965)" font-size="17.0">6500</text>
<text transform="translate(828.7,445.0) scale(1.089,0.965)" font-size="17.0">7000</text>
<text transform="translate(936.01,445.0) scale(1.089,0.965)" font-size="17.0">7500</text>
<text transform="translate(489.39,470.0) scale(1.1026,0.94)" font-size="17.0">Wavelength</text>
<text transform="translate(592.86,470.0) scale(1.1918,0.94)" font-size="17.0">[Å]</text>
<text transform="translate(119.8,79.0) scale(1.0,0.965)" font-size="17.0">3</text>
<text transform="translate(119.52,139.0) scale(1.0,0.965)" font-size="17.0">2</text>
<text transform="translate(119.41,198.0) scale(1.0,0.965)" font-size="17.0">1</text>
<text transform="translate(119.25,257.0) scale(1.0625,0.965)" font-size="17.0">0</text>
<text transform="translate(105.18,316.0) scale(1.1831,0.965)" font-size="17.0">−1</text>
<text transform="translate(105.19,375.0) scale(1.1831,0.965)" font-size="17.0">−2</text>
<text transform="translate(94.0,295.14) scale(0.95,1.0932) rotate(-90)" font-size="17.0">Relative</text>
<text transform="translate(94.0,222.17) scale(0.95,1.1442) rotate(-90)" font-size="17.0">flux</text>
</g>
</svg></body></html>
